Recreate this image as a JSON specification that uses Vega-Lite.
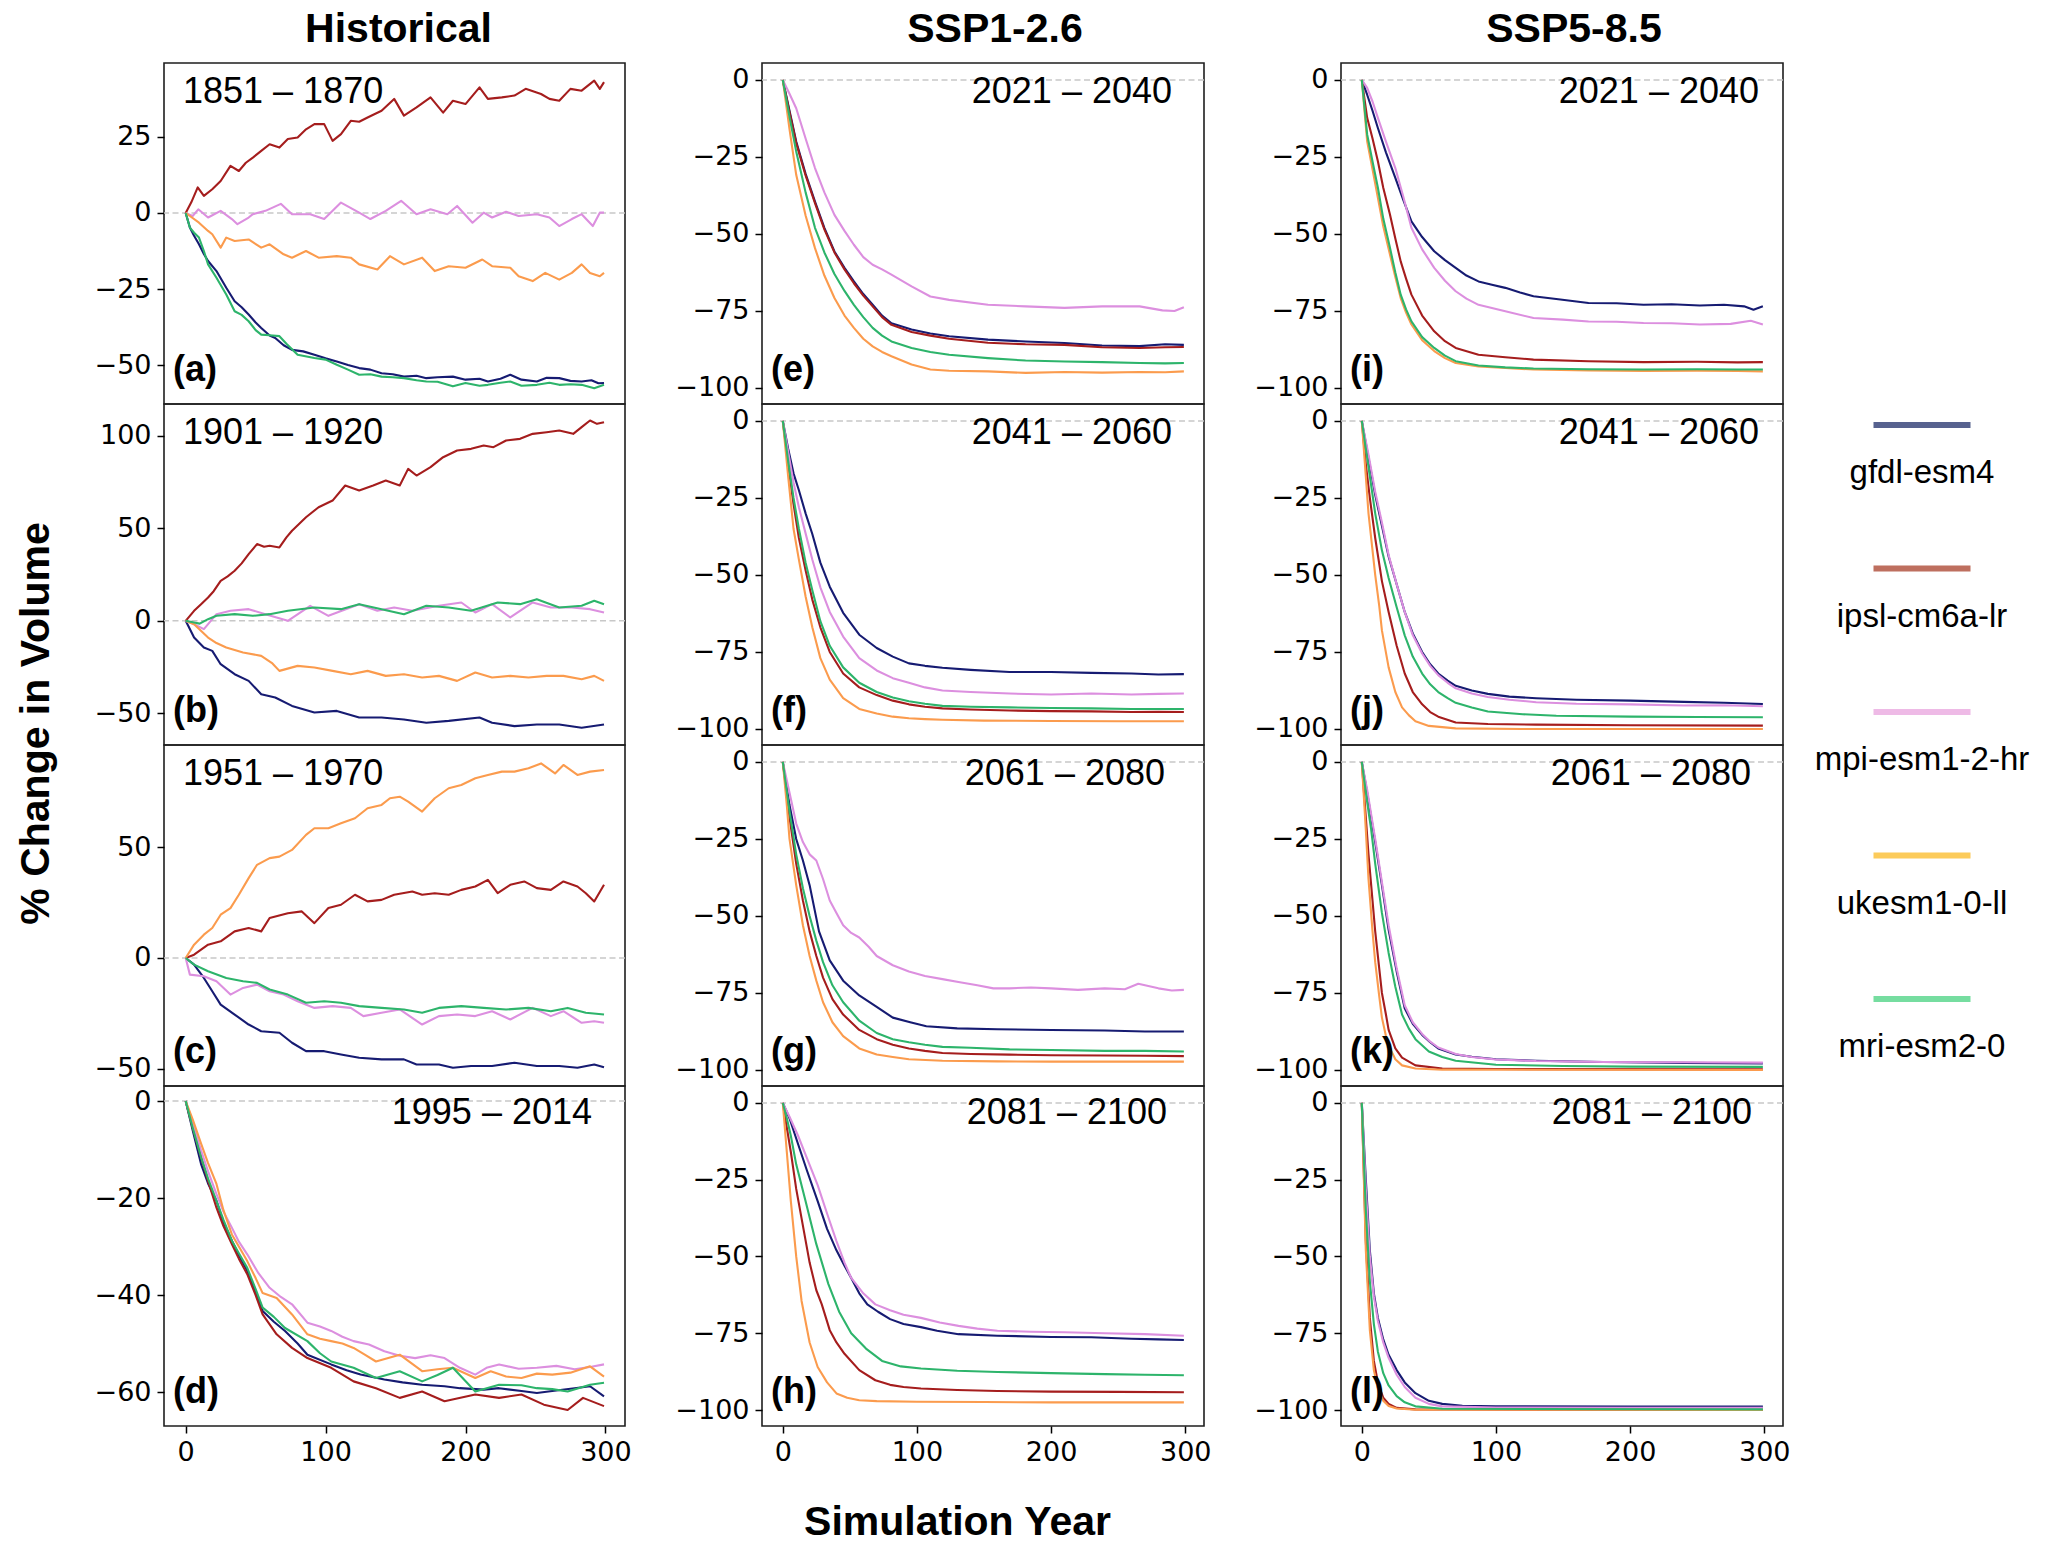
{
"$schema":"https://vega.github.io/schema/vega-lite/v6.json",
"background":"white",
"padding":{"left":14,"top":8,"right":10,"bottom":2},
"config":{
 "font":"Liberation Sans",
 "view":{"stroke":"#1e1e1e","strokeWidth":1.6},
 "axis":{"grid":false,"domain":false,"tickColor":"black","tickSize":7,"tickWidth":1.5,"labelFont":"DejaVu Sans","labelFontSize":27,"labelColor":"black","labelPadding":6,"labelFlush":false,"labelOverlap":false,"titleFont":"Liberation Sans","titleFontSize":41,"titleFontWeight":"bold","titleColor":"black"},
 "title":{"font":"Liberation Sans","fontSize":41,"fontWeight":"bold","color":"black","anchor":"middle","frame":"group","baseline":"alphabetic","offset":12},
 "line":{"strokeWidth":2.1,"strokeJoin":"round"},
 "text":{"font":"Liberation Sans","color":"black"}
},
"resolve":{"scale":{"x":"independent","y":"independent","color":"independent"}},
"columns":4,
"spacing":{"row":0,"column":137},
"bounds":"flush",
"datasets":{
"a":[
{"m":"gfdl-esm4","x":0,"y":0},{"m":"gfdl-esm4","x":3,"y":-4.8},{"m":"gfdl-esm4","x":6,"y":-7.5},{"m":"gfdl-esm4","x":9.5,"y":-10.3},{"m":"gfdl-esm4","x":13,"y":-13.5},{"m":"gfdl-esm4","x":16,"y":-15.8},{"m":"gfdl-esm4","x":22,"y":-19.1},{"m":"gfdl-esm4","x":29,"y":-24.6},{"m":"gfdl-esm4","x":35,"y":-29},{"m":"gfdl-esm4","x":40,"y":-31},{"m":"gfdl-esm4","x":45,"y":-33.4},{"m":"gfdl-esm4","x":50,"y":-36},{"m":"gfdl-esm4","x":54,"y":-37.8},{"m":"gfdl-esm4","x":60,"y":-40.3},{"m":"gfdl-esm4","x":64,"y":-41.1},{"m":"gfdl-esm4","x":70,"y":-43.5},{"m":"gfdl-esm4","x":76,"y":-45},{"m":"gfdl-esm4","x":84,"y":-45.5},{"m":"gfdl-esm4","x":92,"y":-46.6},{"m":"gfdl-esm4","x":100,"y":-47.8},{"m":"gfdl-esm4","x":108,"y":-48.8},{"m":"gfdl-esm4","x":116,"y":-50},{"m":"gfdl-esm4","x":124,"y":-51},{"m":"gfdl-esm4","x":132,"y":-51.5},{"m":"gfdl-esm4","x":140,"y":-52.7},{"m":"gfdl-esm4","x":148,"y":-53},{"m":"gfdl-esm4","x":156,"y":-53.8},{"m":"gfdl-esm4","x":165,"y":-53.5},{"m":"gfdl-esm4","x":172,"y":-54.3},{"m":"gfdl-esm4","x":180,"y":-54},{"m":"gfdl-esm4","x":191,"y":-53.8},{"m":"gfdl-esm4","x":200,"y":-54.8},{"m":"gfdl-esm4","x":210,"y":-54.5},{"m":"gfdl-esm4","x":216,"y":-55.4},{"m":"gfdl-esm4","x":225,"y":-54.5},{"m":"gfdl-esm4","x":232,"y":-53.2},{"m":"gfdl-esm4","x":240,"y":-54.8},{"m":"gfdl-esm4","x":251,"y":-55.4},{"m":"gfdl-esm4","x":258,"y":-54.2},{"m":"gfdl-esm4","x":267,"y":-54.3},{"m":"gfdl-esm4","x":275,"y":-55.2},{"m":"gfdl-esm4","x":283,"y":-55.4},{"m":"gfdl-esm4","x":290,"y":-55},{"m":"gfdl-esm4","x":295,"y":-56},{"m":"gfdl-esm4","x":299,"y":-55.9},
{"m":"ipsl-cm6a-lr","x":0,"y":0},{"m":"ipsl-cm6a-lr","x":4,"y":3.5},{"m":"ipsl-cm6a-lr","x":8.6,"y":8.4},{"m":"ipsl-cm6a-lr","x":13,"y":5.6},{"m":"ipsl-cm6a-lr","x":19,"y":7.8},{"m":"ipsl-cm6a-lr","x":25,"y":10.5},{"m":"ipsl-cm6a-lr","x":32,"y":15.5},{"m":"ipsl-cm6a-lr","x":38,"y":13.8},{"m":"ipsl-cm6a-lr","x":43,"y":16.5},{"m":"ipsl-cm6a-lr","x":48,"y":18.2},{"m":"ipsl-cm6a-lr","x":54,"y":20.4},{"m":"ipsl-cm6a-lr","x":60,"y":22.6},{"m":"ipsl-cm6a-lr","x":67,"y":21.5},{"m":"ipsl-cm6a-lr","x":73,"y":24.3},{"m":"ipsl-cm6a-lr","x":80,"y":24.8},{"m":"ipsl-cm6a-lr","x":86,"y":27.5},{"m":"ipsl-cm6a-lr","x":92,"y":29.2},{"m":"ipsl-cm6a-lr","x":99,"y":29.2},{"m":"ipsl-cm6a-lr","x":105,"y":23.7},{"m":"ipsl-cm6a-lr","x":111,"y":25.9},{"m":"ipsl-cm6a-lr","x":118,"y":30.3},{"m":"ipsl-cm6a-lr","x":124,"y":30},{"m":"ipsl-cm6a-lr","x":130,"y":31.4},{"m":"ipsl-cm6a-lr","x":140,"y":33.6},{"m":"ipsl-cm6a-lr","x":149,"y":37.5},{"m":"ipsl-cm6a-lr","x":156,"y":32},{"m":"ipsl-cm6a-lr","x":165,"y":34.7},{"m":"ipsl-cm6a-lr","x":175,"y":38},{"m":"ipsl-cm6a-lr","x":184,"y":33},{"m":"ipsl-cm6a-lr","x":191,"y":36.9},{"m":"ipsl-cm6a-lr","x":200,"y":35.8},{"m":"ipsl-cm6a-lr","x":210,"y":41.3},{"m":"ipsl-cm6a-lr","x":216,"y":37.5},{"m":"ipsl-cm6a-lr","x":226,"y":38},{"m":"ipsl-cm6a-lr","x":235,"y":38.6},{"m":"ipsl-cm6a-lr","x":243,"y":40.8},{"m":"ipsl-cm6a-lr","x":254,"y":39.1},{"m":"ipsl-cm6a-lr","x":260,"y":37.5},{"m":"ipsl-cm6a-lr","x":267,"y":36.9},{"m":"ipsl-cm6a-lr","x":275,"y":40.8},{"m":"ipsl-cm6a-lr","x":283,"y":40.2},{"m":"ipsl-cm6a-lr","x":292,"y":43.5},{"m":"ipsl-cm6a-lr","x":296,"y":40.8},{"m":"ipsl-cm6a-lr","x":299,"y":43},
{"m":"mpi-esm1-2-hr","x":0,"y":0},{"m":"mpi-esm1-2-hr","x":5,"y":-1},{"m":"mpi-esm1-2-hr","x":9,"y":1.2},{"m":"mpi-esm1-2-hr","x":16,"y":-1.5},{"m":"mpi-esm1-2-hr","x":25,"y":0.7},{"m":"mpi-esm1-2-hr","x":33,"y":-2},{"m":"mpi-esm1-2-hr","x":37,"y":-3.7},{"m":"mpi-esm1-2-hr","x":45,"y":-1.5},{"m":"mpi-esm1-2-hr","x":48,"y":-0.4},{"m":"mpi-esm1-2-hr","x":57,"y":0.7},{"m":"mpi-esm1-2-hr","x":68,"y":3},{"m":"mpi-esm1-2-hr","x":76,"y":-0.4},{"m":"mpi-esm1-2-hr","x":89,"y":-0.4},{"m":"mpi-esm1-2-hr","x":99,"y":-2},{"m":"mpi-esm1-2-hr","x":111,"y":3.4},{"m":"mpi-esm1-2-hr","x":124,"y":0.1},{"m":"mpi-esm1-2-hr","x":132,"y":-2},{"m":"mpi-esm1-2-hr","x":143,"y":0.7},{"m":"mpi-esm1-2-hr","x":154,"y":4},{"m":"mpi-esm1-2-hr","x":165,"y":-0.4},{"m":"mpi-esm1-2-hr","x":175,"y":1.2},{"m":"mpi-esm1-2-hr","x":187,"y":-0.4},{"m":"mpi-esm1-2-hr","x":194,"y":2.3},{"m":"mpi-esm1-2-hr","x":205,"y":-3.2},{"m":"mpi-esm1-2-hr","x":213,"y":0.1},{"m":"mpi-esm1-2-hr","x":219,"y":-1.5},{"m":"mpi-esm1-2-hr","x":229,"y":0.4},{"m":"mpi-esm1-2-hr","x":238,"y":-1},{"m":"mpi-esm1-2-hr","x":251,"y":-0.4},{"m":"mpi-esm1-2-hr","x":260,"y":-1.5},{"m":"mpi-esm1-2-hr","x":267,"y":-4.3},{"m":"mpi-esm1-2-hr","x":276,"y":-2},{"m":"mpi-esm1-2-hr","x":283,"y":-0.4},{"m":"mpi-esm1-2-hr","x":291,"y":-4.3},{"m":"mpi-esm1-2-hr","x":296,"y":0.1},{"m":"mpi-esm1-2-hr","x":299,"y":0.1},
{"m":"ukesm1-0-ll","x":0,"y":0},{"m":"ukesm1-0-ll","x":3,"y":-1},{"m":"ukesm1-0-ll","x":9.5,"y":-3.2},{"m":"ukesm1-0-ll","x":16,"y":-5.9},{"m":"ukesm1-0-ll","x":19,"y":-7},{"m":"ukesm1-0-ll","x":25,"y":-11.4},{"m":"ukesm1-0-ll","x":29,"y":-8.1},{"m":"ukesm1-0-ll","x":35,"y":-9.2},{"m":"ukesm1-0-ll","x":45,"y":-8.7},{"m":"ukesm1-0-ll","x":54,"y":-11.4},{"m":"ukesm1-0-ll","x":60,"y":-10.3},{"m":"ukesm1-0-ll","x":70,"y":-13.6},{"m":"ukesm1-0-ll","x":76,"y":-14.7},{"m":"ukesm1-0-ll","x":86,"y":-12.5},{"m":"ukesm1-0-ll","x":95,"y":-14.7},{"m":"ukesm1-0-ll","x":108,"y":-14.2},{"m":"ukesm1-0-ll","x":118,"y":-14.7},{"m":"ukesm1-0-ll","x":124,"y":-16.9},{"m":"ukesm1-0-ll","x":137,"y":-18.6},{"m":"ukesm1-0-ll","x":146,"y":-14.2},{"m":"ukesm1-0-ll","x":156,"y":-16.9},{"m":"ukesm1-0-ll","x":169,"y":-14.7},{"m":"ukesm1-0-ll","x":178,"y":-19.1},{"m":"ukesm1-0-ll","x":188,"y":-17.5},{"m":"ukesm1-0-ll","x":200,"y":-18},{"m":"ukesm1-0-ll","x":212,"y":-15.3},{"m":"ukesm1-0-ll","x":219,"y":-17.5},{"m":"ukesm1-0-ll","x":232,"y":-18},{"m":"ukesm1-0-ll","x":238,"y":-20.8},{"m":"ukesm1-0-ll","x":248,"y":-22.4},{"m":"ukesm1-0-ll","x":257,"y":-19.7},{"m":"ukesm1-0-ll","x":267,"y":-21.9},{"m":"ukesm1-0-ll","x":276,"y":-19.7},{"m":"ukesm1-0-ll","x":283,"y":-16.9},{"m":"ukesm1-0-ll","x":289,"y":-19.7},{"m":"ukesm1-0-ll","x":296,"y":-20.8},{"m":"ukesm1-0-ll","x":299,"y":-19.7},
{"m":"mri-esm2-0","x":0,"y":0},{"m":"mri-esm2-0","x":3,"y":-4.8},{"m":"mri-esm2-0","x":6,"y":-6.5},{"m":"mri-esm2-0","x":9.5,"y":-8.1},{"m":"mri-esm2-0","x":13,"y":-12.5},{"m":"mri-esm2-0","x":16,"y":-16.9},{"m":"mri-esm2-0","x":22,"y":-21.3},{"m":"mri-esm2-0","x":29,"y":-26.8},{"m":"mri-esm2-0","x":35,"y":-32.3},{"m":"mri-esm2-0","x":40,"y":-33.5},{"m":"mri-esm2-0","x":45,"y":-35.6},{"m":"mri-esm2-0","x":50,"y":-38.5},{"m":"mri-esm2-0","x":54,"y":-40},{"m":"mri-esm2-0","x":60,"y":-40.2},{"m":"mri-esm2-0","x":67,"y":-40.5},{"m":"mri-esm2-0","x":72,"y":-43},{"m":"mri-esm2-0","x":80,"y":-46.6},{"m":"mri-esm2-0","x":92,"y":-47.7},{"m":"mri-esm2-0","x":100,"y":-48.2},{"m":"mri-esm2-0","x":108,"y":-49.9},{"m":"mri-esm2-0","x":116,"y":-51.5},{"m":"mri-esm2-0","x":124,"y":-53.2},{"m":"mri-esm2-0","x":132,"y":-53},{"m":"mri-esm2-0","x":140,"y":-53.8},{"m":"mri-esm2-0","x":148,"y":-54},{"m":"mri-esm2-0","x":156,"y":-54.3},{"m":"mri-esm2-0","x":165,"y":-55},{"m":"mri-esm2-0","x":172,"y":-55.4},{"m":"mri-esm2-0","x":180,"y":-55.5},{"m":"mri-esm2-0","x":191,"y":-57},{"m":"mri-esm2-0","x":200,"y":-55.9},{"m":"mri-esm2-0","x":210,"y":-56.8},{"m":"mri-esm2-0","x":216,"y":-56.5},{"m":"mri-esm2-0","x":225,"y":-55.8},{"m":"mri-esm2-0","x":232,"y":-55.4},{"m":"mri-esm2-0","x":240,"y":-56.8},{"m":"mri-esm2-0","x":251,"y":-56.5},{"m":"mri-esm2-0","x":260,"y":-55.8},{"m":"mri-esm2-0","x":267,"y":-56.5},{"m":"mri-esm2-0","x":275,"y":-56.3},{"m":"mri-esm2-0","x":283,"y":-56.5},{"m":"mri-esm2-0","x":292,"y":-57.6},{"m":"mri-esm2-0","x":299,"y":-56.5}
],
"b":[
{"m":"gfdl-esm4","x":0,"y":0},{"m":"gfdl-esm4","x":6,"y":-9},{"m":"gfdl-esm4","x":13,"y":-14.4},{"m":"gfdl-esm4","x":19,"y":-16.2},{"m":"gfdl-esm4","x":25,"y":-23.4},{"m":"gfdl-esm4","x":35,"y":-28.8},{"m":"gfdl-esm4","x":45,"y":-32.4},{"m":"gfdl-esm4","x":54,"y":-39.6},{"m":"gfdl-esm4","x":64,"y":-41.4},{"m":"gfdl-esm4","x":76,"y":-45.9},{"m":"gfdl-esm4","x":92,"y":-49.5},{"m":"gfdl-esm4","x":108,"y":-48.6},{"m":"gfdl-esm4","x":124,"y":-52.2},{"m":"gfdl-esm4","x":140,"y":-52.2},{"m":"gfdl-esm4","x":156,"y":-53.2},{"m":"gfdl-esm4","x":172,"y":-55},{"m":"gfdl-esm4","x":188,"y":-54},{"m":"gfdl-esm4","x":210,"y":-52.2},{"m":"gfdl-esm4","x":219,"y":-55},{"m":"gfdl-esm4","x":235,"y":-56.8},{"m":"gfdl-esm4","x":251,"y":-55.9},{"m":"gfdl-esm4","x":267,"y":-55.9},{"m":"gfdl-esm4","x":283,"y":-57.7},{"m":"gfdl-esm4","x":299,"y":-55.9},
{"m":"ipsl-cm6a-lr","x":0,"y":0},{"m":"ipsl-cm6a-lr","x":6,"y":5.4},{"m":"ipsl-cm6a-lr","x":11,"y":9},{"m":"ipsl-cm6a-lr","x":16,"y":12.6},{"m":"ipsl-cm6a-lr","x":20,"y":16},{"m":"ipsl-cm6a-lr","x":25,"y":21.6},{"m":"ipsl-cm6a-lr","x":30,"y":24},{"m":"ipsl-cm6a-lr","x":35,"y":27},{"m":"ipsl-cm6a-lr","x":40,"y":31},{"m":"ipsl-cm6a-lr","x":45,"y":36},{"m":"ipsl-cm6a-lr","x":51,"y":41.4},{"m":"ipsl-cm6a-lr","x":56,"y":40},{"m":"ipsl-cm6a-lr","x":60,"y":40.5},{"m":"ipsl-cm6a-lr","x":67,"y":39.6},{"m":"ipsl-cm6a-lr","x":72,"y":45},{"m":"ipsl-cm6a-lr","x":76,"y":48.6},{"m":"ipsl-cm6a-lr","x":86,"y":55.9},{"m":"ipsl-cm6a-lr","x":95,"y":61.3},{"m":"ipsl-cm6a-lr","x":105,"y":64.9},{"m":"ipsl-cm6a-lr","x":114,"y":73},{"m":"ipsl-cm6a-lr","x":124,"y":70.3},{"m":"ipsl-cm6a-lr","x":134,"y":73},{"m":"ipsl-cm6a-lr","x":143,"y":75.7},{"m":"ipsl-cm6a-lr","x":153,"y":73},{"m":"ipsl-cm6a-lr","x":159,"y":82},{"m":"ipsl-cm6a-lr","x":165,"y":78.4},{"m":"ipsl-cm6a-lr","x":175,"y":82.9},{"m":"ipsl-cm6a-lr","x":184,"y":88.3},{"m":"ipsl-cm6a-lr","x":194,"y":91.9},{"m":"ipsl-cm6a-lr","x":204,"y":92.8},{"m":"ipsl-cm6a-lr","x":213,"y":94.6},{"m":"ipsl-cm6a-lr","x":220,"y":93.7},{"m":"ipsl-cm6a-lr","x":229,"y":97.3},{"m":"ipsl-cm6a-lr","x":239,"y":98.2},{"m":"ipsl-cm6a-lr","x":248,"y":100.9},{"m":"ipsl-cm6a-lr","x":258,"y":101.8},{"m":"ipsl-cm6a-lr","x":267,"y":102.7},{"m":"ipsl-cm6a-lr","x":277,"y":100.9},{"m":"ipsl-cm6a-lr","x":283,"y":104.5},{"m":"ipsl-cm6a-lr","x":289,"y":108.1},{"m":"ipsl-cm6a-lr","x":294,"y":106.3},{"m":"ipsl-cm6a-lr","x":299,"y":107.2},
{"m":"mpi-esm1-2-hr","x":0,"y":0},{"m":"mpi-esm1-2-hr","x":6,"y":-1.8},{"m":"mpi-esm1-2-hr","x":13,"y":-4.5},{"m":"mpi-esm1-2-hr","x":22,"y":3.6},{"m":"mpi-esm1-2-hr","x":32,"y":5.4},{"m":"mpi-esm1-2-hr","x":45,"y":6.3},{"m":"mpi-esm1-2-hr","x":57,"y":3.6},{"m":"mpi-esm1-2-hr","x":73,"y":0},{"m":"mpi-esm1-2-hr","x":89,"y":8.1},{"m":"mpi-esm1-2-hr","x":102,"y":2.7},{"m":"mpi-esm1-2-hr","x":124,"y":9},{"m":"mpi-esm1-2-hr","x":137,"y":5.4},{"m":"mpi-esm1-2-hr","x":149,"y":7.2},{"m":"mpi-esm1-2-hr","x":162,"y":5.4},{"m":"mpi-esm1-2-hr","x":181,"y":8.1},{"m":"mpi-esm1-2-hr","x":197,"y":9.9},{"m":"mpi-esm1-2-hr","x":207,"y":4.5},{"m":"mpi-esm1-2-hr","x":219,"y":9},{"m":"mpi-esm1-2-hr","x":232,"y":1.8},{"m":"mpi-esm1-2-hr","x":248,"y":9.9},{"m":"mpi-esm1-2-hr","x":261,"y":7.2},{"m":"mpi-esm1-2-hr","x":276,"y":7.2},{"m":"mpi-esm1-2-hr","x":289,"y":6.3},{"m":"mpi-esm1-2-hr","x":299,"y":4.5},
{"m":"ukesm1-0-ll","x":0,"y":0},{"m":"ukesm1-0-ll","x":6,"y":-1.8},{"m":"ukesm1-0-ll","x":16,"y":-9},{"m":"ukesm1-0-ll","x":22,"y":-12},{"m":"ukesm1-0-ll","x":29,"y":-14.4},{"m":"ukesm1-0-ll","x":41,"y":-17.1},{"m":"ukesm1-0-ll","x":54,"y":-18.9},{"m":"ukesm1-0-ll","x":62,"y":-23},{"m":"ukesm1-0-ll","x":67,"y":-27},{"m":"ukesm1-0-ll","x":80,"y":-24.3},{"m":"ukesm1-0-ll","x":92,"y":-25.2},{"m":"ukesm1-0-ll","x":105,"y":-27},{"m":"ukesm1-0-ll","x":118,"y":-28.8},{"m":"ukesm1-0-ll","x":130,"y":-27},{"m":"ukesm1-0-ll","x":143,"y":-29.7},{"m":"ukesm1-0-ll","x":156,"y":-28.8},{"m":"ukesm1-0-ll","x":169,"y":-30.6},{"m":"ukesm1-0-ll","x":181,"y":-29.7},{"m":"ukesm1-0-ll","x":194,"y":-32.4},{"m":"ukesm1-0-ll","x":207,"y":-27.9},{"m":"ukesm1-0-ll","x":219,"y":-30.6},{"m":"ukesm1-0-ll","x":232,"y":-29.7},{"m":"ukesm1-0-ll","x":245,"y":-30.6},{"m":"ukesm1-0-ll","x":258,"y":-29.7},{"m":"ukesm1-0-ll","x":270,"y":-29.7},{"m":"ukesm1-0-ll","x":283,"y":-31.5},{"m":"ukesm1-0-ll","x":292,"y":-29.7},{"m":"ukesm1-0-ll","x":299,"y":-32.4},
{"m":"mri-esm2-0","x":0,"y":0},{"m":"mri-esm2-0","x":6,"y":-0.9},{"m":"mri-esm2-0","x":10,"y":-1.5},{"m":"mri-esm2-0","x":16,"y":0.9},{"m":"mri-esm2-0","x":22,"y":2.7},{"m":"mri-esm2-0","x":35,"y":3.6},{"m":"mri-esm2-0","x":48,"y":2.7},{"m":"mri-esm2-0","x":60,"y":3.6},{"m":"mri-esm2-0","x":73,"y":5.4},{"m":"mri-esm2-0","x":92,"y":7.2},{"m":"mri-esm2-0","x":111,"y":6.3},{"m":"mri-esm2-0","x":124,"y":9},{"m":"mri-esm2-0","x":140,"y":6.3},{"m":"mri-esm2-0","x":156,"y":3.6},{"m":"mri-esm2-0","x":172,"y":8.1},{"m":"mri-esm2-0","x":188,"y":7.2},{"m":"mri-esm2-0","x":204,"y":5.4},{"m":"mri-esm2-0","x":223,"y":9.9},{"m":"mri-esm2-0","x":239,"y":9},{"m":"mri-esm2-0","x":251,"y":11.7},{"m":"mri-esm2-0","x":267,"y":7.2},{"m":"mri-esm2-0","x":283,"y":8.1},{"m":"mri-esm2-0","x":292,"y":10.8},{"m":"mri-esm2-0","x":299,"y":9}
],
"c":[
{"m":"gfdl-esm4","x":0,"y":0},{"m":"gfdl-esm4","x":6,"y":-3},{"m":"gfdl-esm4","x":13,"y":-9},{"m":"gfdl-esm4","x":19,"y":-15},{"m":"gfdl-esm4","x":25,"y":-21},{"m":"gfdl-esm4","x":35,"y":-25.5},{"m":"gfdl-esm4","x":45,"y":-30},{"m":"gfdl-esm4","x":54,"y":-33},{"m":"gfdl-esm4","x":67,"y":-33.7},{"m":"gfdl-esm4","x":76,"y":-38.2},{"m":"gfdl-esm4","x":86,"y":-42},{"m":"gfdl-esm4","x":99,"y":-42},{"m":"gfdl-esm4","x":111,"y":-43.5},{"m":"gfdl-esm4","x":124,"y":-45},{"m":"gfdl-esm4","x":140,"y":-45.7},{"m":"gfdl-esm4","x":156,"y":-45.7},{"m":"gfdl-esm4","x":165,"y":-48},{"m":"gfdl-esm4","x":181,"y":-48},{"m":"gfdl-esm4","x":191,"y":-49.5},{"m":"gfdl-esm4","x":204,"y":-48.7},{"m":"gfdl-esm4","x":219,"y":-48.7},{"m":"gfdl-esm4","x":235,"y":-47.2},{"m":"gfdl-esm4","x":251,"y":-48.7},{"m":"gfdl-esm4","x":267,"y":-48.7},{"m":"gfdl-esm4","x":280,"y":-49.5},{"m":"gfdl-esm4","x":292,"y":-48},{"m":"gfdl-esm4","x":299,"y":-49.2},
{"m":"ipsl-cm6a-lr","x":0,"y":0},{"m":"ipsl-cm6a-lr","x":6,"y":1.5},{"m":"ipsl-cm6a-lr","x":16,"y":6},{"m":"ipsl-cm6a-lr","x":25,"y":7.5},{"m":"ipsl-cm6a-lr","x":35,"y":12},{"m":"ipsl-cm6a-lr","x":45,"y":13.5},{"m":"ipsl-cm6a-lr","x":54,"y":12},{"m":"ipsl-cm6a-lr","x":60,"y":18},{"m":"ipsl-cm6a-lr","x":73,"y":20.2},{"m":"ipsl-cm6a-lr","x":83,"y":21},{"m":"ipsl-cm6a-lr","x":92,"y":15.7},{"m":"ipsl-cm6a-lr","x":102,"y":22.5},{"m":"ipsl-cm6a-lr","x":111,"y":24},{"m":"ipsl-cm6a-lr","x":121,"y":28.5},{"m":"ipsl-cm6a-lr","x":130,"y":25.5},{"m":"ipsl-cm6a-lr","x":140,"y":26.2},{"m":"ipsl-cm6a-lr","x":149,"y":28.5},{"m":"ipsl-cm6a-lr","x":162,"y":30},{"m":"ipsl-cm6a-lr","x":169,"y":28.5},{"m":"ipsl-cm6a-lr","x":178,"y":29.2},{"m":"ipsl-cm6a-lr","x":188,"y":28.5},{"m":"ipsl-cm6a-lr","x":197,"y":30.7},{"m":"ipsl-cm6a-lr","x":207,"y":32.2},{"m":"ipsl-cm6a-lr","x":216,"y":35.2},{"m":"ipsl-cm6a-lr","x":223,"y":29.2},{"m":"ipsl-cm6a-lr","x":232,"y":33},{"m":"ipsl-cm6a-lr","x":242,"y":34.5},{"m":"ipsl-cm6a-lr","x":251,"y":31.5},{"m":"ipsl-cm6a-lr","x":261,"y":30.7},{"m":"ipsl-cm6a-lr","x":270,"y":34.5},{"m":"ipsl-cm6a-lr","x":280,"y":32.2},{"m":"ipsl-cm6a-lr","x":286,"y":29.2},{"m":"ipsl-cm6a-lr","x":292,"y":25.5},{"m":"ipsl-cm6a-lr","x":299,"y":33},
{"m":"mpi-esm1-2-hr","x":0,"y":0},{"m":"mpi-esm1-2-hr","x":3,"y":-7.5},{"m":"mpi-esm1-2-hr","x":13,"y":-8.2},{"m":"mpi-esm1-2-hr","x":22,"y":-10.5},{"m":"mpi-esm1-2-hr","x":32,"y":-16.5},{"m":"mpi-esm1-2-hr","x":41,"y":-13.5},{"m":"mpi-esm1-2-hr","x":51,"y":-12},{"m":"mpi-esm1-2-hr","x":60,"y":-15},{"m":"mpi-esm1-2-hr","x":70,"y":-16.5},{"m":"mpi-esm1-2-hr","x":80,"y":-19.5},{"m":"mpi-esm1-2-hr","x":92,"y":-22.5},{"m":"mpi-esm1-2-hr","x":105,"y":-21.7},{"m":"mpi-esm1-2-hr","x":118,"y":-22.5},{"m":"mpi-esm1-2-hr","x":127,"y":-26.2},{"m":"mpi-esm1-2-hr","x":140,"y":-24.7},{"m":"mpi-esm1-2-hr","x":153,"y":-23.2},{"m":"mpi-esm1-2-hr","x":169,"y":-30},{"m":"mpi-esm1-2-hr","x":181,"y":-26.2},{"m":"mpi-esm1-2-hr","x":194,"y":-25.5},{"m":"mpi-esm1-2-hr","x":207,"y":-26.2},{"m":"mpi-esm1-2-hr","x":219,"y":-24},{"m":"mpi-esm1-2-hr","x":232,"y":-27.7},{"m":"mpi-esm1-2-hr","x":248,"y":-22.5},{"m":"mpi-esm1-2-hr","x":261,"y":-26.2},{"m":"mpi-esm1-2-hr","x":270,"y":-24},{"m":"mpi-esm1-2-hr","x":283,"y":-29.2},{"m":"mpi-esm1-2-hr","x":292,"y":-28.5},{"m":"mpi-esm1-2-hr","x":299,"y":-29.2},
{"m":"ukesm1-0-ll","x":0,"y":0},{"m":"ukesm1-0-ll","x":6,"y":6},{"m":"ukesm1-0-ll","x":13,"y":10.5},{"m":"ukesm1-0-ll","x":19,"y":13.5},{"m":"ukesm1-0-ll","x":25,"y":19.5},{"m":"ukesm1-0-ll","x":32,"y":22.5},{"m":"ukesm1-0-ll","x":38,"y":28.5},{"m":"ukesm1-0-ll","x":45,"y":36},{"m":"ukesm1-0-ll","x":51,"y":42},{"m":"ukesm1-0-ll","x":60,"y":45},{"m":"ukesm1-0-ll","x":67,"y":45.7},{"m":"ukesm1-0-ll","x":76,"y":48.7},{"m":"ukesm1-0-ll","x":86,"y":55.5},{"m":"ukesm1-0-ll","x":92,"y":58.5},{"m":"ukesm1-0-ll","x":102,"y":58.5},{"m":"ukesm1-0-ll","x":111,"y":60.7},{"m":"ukesm1-0-ll","x":121,"y":63},{"m":"ukesm1-0-ll","x":130,"y":67.5},{"m":"ukesm1-0-ll","x":140,"y":69},{"m":"ukesm1-0-ll","x":146,"y":72},{"m":"ukesm1-0-ll","x":153,"y":72.7},{"m":"ukesm1-0-ll","x":159,"y":70.5},{"m":"ukesm1-0-ll","x":169,"y":66},{"m":"ukesm1-0-ll","x":178,"y":72},{"m":"ukesm1-0-ll","x":188,"y":76.5},{"m":"ukesm1-0-ll","x":197,"y":78},{"m":"ukesm1-0-ll","x":207,"y":81},{"m":"ukesm1-0-ll","x":216,"y":82.5},{"m":"ukesm1-0-ll","x":226,"y":84},{"m":"ukesm1-0-ll","x":235,"y":84},{"m":"ukesm1-0-ll","x":245,"y":85.5},{"m":"ukesm1-0-ll","x":254,"y":87.7},{"m":"ukesm1-0-ll","x":264,"y":83.2},{"m":"ukesm1-0-ll","x":270,"y":87},{"m":"ukesm1-0-ll","x":280,"y":82.5},{"m":"ukesm1-0-ll","x":289,"y":84},{"m":"ukesm1-0-ll","x":299,"y":84.7},
{"m":"mri-esm2-0","x":0,"y":0},{"m":"mri-esm2-0","x":6,"y":-3},{"m":"mri-esm2-0","x":16,"y":-6},{"m":"mri-esm2-0","x":29,"y":-9},{"m":"mri-esm2-0","x":41,"y":-10.5},{"m":"mri-esm2-0","x":51,"y":-11.2},{"m":"mri-esm2-0","x":60,"y":-14.2},{"m":"mri-esm2-0","x":73,"y":-16.5},{"m":"mri-esm2-0","x":86,"y":-20.2},{"m":"mri-esm2-0","x":99,"y":-19.5},{"m":"mri-esm2-0","x":111,"y":-20.2},{"m":"mri-esm2-0","x":124,"y":-21.7},{"m":"mri-esm2-0","x":140,"y":-22.5},{"m":"mri-esm2-0","x":156,"y":-23.2},{"m":"mri-esm2-0","x":169,"y":-24.7},{"m":"mri-esm2-0","x":181,"y":-22.5},{"m":"mri-esm2-0","x":197,"y":-21.7},{"m":"mri-esm2-0","x":213,"y":-22.5},{"m":"mri-esm2-0","x":229,"y":-23.2},{"m":"mri-esm2-0","x":245,"y":-22.5},{"m":"mri-esm2-0","x":261,"y":-24},{"m":"mri-esm2-0","x":273,"y":-22.5},{"m":"mri-esm2-0","x":286,"y":-24.7},{"m":"mri-esm2-0","x":299,"y":-25.5}
],
"d":[
{"m":"gfdl-esm4","x":0,"y":0},{"m":"gfdl-esm4","x":5,"y":-6},{"m":"gfdl-esm4","x":11,"y":-13},{"m":"gfdl-esm4","x":16,"y":-17},{"m":"gfdl-esm4","x":22,"y":-20.6},{"m":"gfdl-esm4","x":27,"y":-25},{"m":"gfdl-esm4","x":33,"y":-28.8},{"m":"gfdl-esm4","x":38,"y":-31.8},{"m":"gfdl-esm4","x":44,"y":-35},{"m":"gfdl-esm4","x":50,"y":-39.5},{"m":"gfdl-esm4","x":55,"y":-43.3},{"m":"gfdl-esm4","x":63,"y":-45.5},{"m":"gfdl-esm4","x":71,"y":-47.4},{"m":"gfdl-esm4","x":80,"y":-50},{"m":"gfdl-esm4","x":87,"y":-52.3},{"m":"gfdl-esm4","x":104,"y":-54.3},{"m":"gfdl-esm4","x":115,"y":-55.5},{"m":"gfdl-esm4","x":125,"y":-56.4},{"m":"gfdl-esm4","x":142,"y":-57.4},{"m":"gfdl-esm4","x":155,"y":-58},{"m":"gfdl-esm4","x":169,"y":-58.5},{"m":"gfdl-esm4","x":185,"y":-58.8},{"m":"gfdl-esm4","x":196,"y":-59.2},{"m":"gfdl-esm4","x":213,"y":-59.5},{"m":"gfdl-esm4","x":224,"y":-59.2},{"m":"gfdl-esm4","x":240,"y":-59.8},{"m":"gfdl-esm4","x":251,"y":-60.2},{"m":"gfdl-esm4","x":262,"y":-59.8},{"m":"gfdl-esm4","x":278,"y":-59.2},{"m":"gfdl-esm4","x":289,"y":-58.8},{"m":"gfdl-esm4","x":299,"y":-60.9},
{"m":"ipsl-cm6a-lr","x":0,"y":0},{"m":"ipsl-cm6a-lr","x":5,"y":-5.5},{"m":"ipsl-cm6a-lr","x":11,"y":-11.6},{"m":"ipsl-cm6a-lr","x":16,"y":-16.5},{"m":"ipsl-cm6a-lr","x":22,"y":-22},{"m":"ipsl-cm6a-lr","x":27,"y":-25.8},{"m":"ipsl-cm6a-lr","x":33,"y":-29.5},{"m":"ipsl-cm6a-lr","x":38,"y":-32.5},{"m":"ipsl-cm6a-lr","x":44,"y":-35.7},{"m":"ipsl-cm6a-lr","x":50,"y":-40},{"m":"ipsl-cm6a-lr","x":55,"y":-44},{"m":"ipsl-cm6a-lr","x":65,"y":-48.1},{"m":"ipsl-cm6a-lr","x":76,"y":-50.9},{"m":"ipsl-cm6a-lr","x":87,"y":-53},{"m":"ipsl-cm6a-lr","x":104,"y":-55},{"m":"ipsl-cm6a-lr","x":120,"y":-57.8},{"m":"ipsl-cm6a-lr","x":136,"y":-59.2},{"m":"ipsl-cm6a-lr","x":153,"y":-61.2},{"m":"ipsl-cm6a-lr","x":169,"y":-59.9},{"m":"ipsl-cm6a-lr","x":185,"y":-61.9},{"m":"ipsl-cm6a-lr","x":207,"y":-60.5},{"m":"ipsl-cm6a-lr","x":224,"y":-61.2},{"m":"ipsl-cm6a-lr","x":240,"y":-60.5},{"m":"ipsl-cm6a-lr","x":256,"y":-62.6},{"m":"ipsl-cm6a-lr","x":273,"y":-63.7},{"m":"ipsl-cm6a-lr","x":284,"y":-61.2},{"m":"ipsl-cm6a-lr","x":299,"y":-62.9},
{"m":"mpi-esm1-2-hr","x":0,"y":0},{"m":"mpi-esm1-2-hr","x":5,"y":-4.5},{"m":"mpi-esm1-2-hr","x":11,"y":-10.2},{"m":"mpi-esm1-2-hr","x":16,"y":-14.5},{"m":"mpi-esm1-2-hr","x":22,"y":-19.2},{"m":"mpi-esm1-2-hr","x":27,"y":-22.8},{"m":"mpi-esm1-2-hr","x":33,"y":-26.1},{"m":"mpi-esm1-2-hr","x":38,"y":-29},{"m":"mpi-esm1-2-hr","x":44,"y":-31.6},{"m":"mpi-esm1-2-hr","x":52,"y":-35.5},{"m":"mpi-esm1-2-hr","x":60,"y":-38.5},{"m":"mpi-esm1-2-hr","x":68,"y":-40.4},{"m":"mpi-esm1-2-hr","x":76,"y":-41.9},{"m":"mpi-esm1-2-hr","x":87,"y":-45.7},{"m":"mpi-esm1-2-hr","x":96,"y":-46.5},{"m":"mpi-esm1-2-hr","x":104,"y":-47.4},{"m":"mpi-esm1-2-hr","x":112,"y":-48.6},{"m":"mpi-esm1-2-hr","x":120,"y":-49.5},{"m":"mpi-esm1-2-hr","x":131,"y":-50.2},{"m":"mpi-esm1-2-hr","x":142,"y":-51.6},{"m":"mpi-esm1-2-hr","x":153,"y":-52.5},{"m":"mpi-esm1-2-hr","x":164,"y":-53},{"m":"mpi-esm1-2-hr","x":175,"y":-52.4},{"m":"mpi-esm1-2-hr","x":185,"y":-53},{"m":"mpi-esm1-2-hr","x":196,"y":-55},{"m":"mpi-esm1-2-hr","x":207,"y":-56.4},{"m":"mpi-esm1-2-hr","x":215,"y":-55},{"m":"mpi-esm1-2-hr","x":224,"y":-54.3},{"m":"mpi-esm1-2-hr","x":238,"y":-55.2},{"m":"mpi-esm1-2-hr","x":251,"y":-55},{"m":"mpi-esm1-2-hr","x":265,"y":-54.6},{"m":"mpi-esm1-2-hr","x":278,"y":-55.3},{"m":"mpi-esm1-2-hr","x":290,"y":-54.8},{"m":"mpi-esm1-2-hr","x":299,"y":-54.3},
{"m":"ukesm1-0-ll","x":0,"y":0},{"m":"ukesm1-0-ll","x":5,"y":-3.8},{"m":"ukesm1-0-ll","x":11,"y":-8.8},{"m":"ukesm1-0-ll","x":16,"y":-12.8},{"m":"ukesm1-0-ll","x":22,"y":-17.1},{"m":"ukesm1-0-ll","x":27,"y":-22.5},{"m":"ukesm1-0-ll","x":33,"y":-27.5},{"m":"ukesm1-0-ll","x":38,"y":-30},{"m":"ukesm1-0-ll","x":44,"y":-33},{"m":"ukesm1-0-ll","x":50,"y":-36.5},{"m":"ukesm1-0-ll","x":55,"y":-39.6},{"m":"ukesm1-0-ll","x":65,"y":-40.6},{"m":"ukesm1-0-ll","x":76,"y":-44},{"m":"ukesm1-0-ll","x":87,"y":-48.1},{"m":"ukesm1-0-ll","x":96,"y":-49},{"m":"ukesm1-0-ll","x":104,"y":-49.5},{"m":"ukesm1-0-ll","x":112,"y":-50},{"m":"ukesm1-0-ll","x":120,"y":-50.9},{"m":"ukesm1-0-ll","x":128,"y":-52.3},{"m":"ukesm1-0-ll","x":136,"y":-53.7},{"m":"ukesm1-0-ll","x":153,"y":-52.3},{"m":"ukesm1-0-ll","x":169,"y":-55.7},{"m":"ukesm1-0-ll","x":180,"y":-55.3},{"m":"ukesm1-0-ll","x":191,"y":-55},{"m":"ukesm1-0-ll","x":207,"y":-57.1},{"m":"ukesm1-0-ll","x":218,"y":-55.7},{"m":"ukesm1-0-ll","x":229,"y":-56.8},{"m":"ukesm1-0-ll","x":240,"y":-57.1},{"m":"ukesm1-0-ll","x":251,"y":-56.2},{"m":"ukesm1-0-ll","x":262,"y":-56.4},{"m":"ukesm1-0-ll","x":275,"y":-56},{"m":"ukesm1-0-ll","x":289,"y":-54.7},{"m":"ukesm1-0-ll","x":299,"y":-56.8},
{"m":"mri-esm2-0","x":0,"y":0},{"m":"mri-esm2-0","x":5,"y":-5.5},{"m":"mri-esm2-0","x":11,"y":-11.6},{"m":"mri-esm2-0","x":16,"y":-16},{"m":"mri-esm2-0","x":22,"y":-20.6},{"m":"mri-esm2-0","x":27,"y":-24.5},{"m":"mri-esm2-0","x":33,"y":-28.8},{"m":"mri-esm2-0","x":38,"y":-31.4},{"m":"mri-esm2-0","x":44,"y":-34.4},{"m":"mri-esm2-0","x":50,"y":-38.8},{"m":"mri-esm2-0","x":55,"y":-42.6},{"m":"mri-esm2-0","x":63,"y":-44.5},{"m":"mri-esm2-0","x":71,"y":-46.8},{"m":"mri-esm2-0","x":87,"y":-49.5},{"m":"mri-esm2-0","x":96,"y":-52},{"m":"mri-esm2-0","x":104,"y":-53.7},{"m":"mri-esm2-0","x":120,"y":-55},{"m":"mri-esm2-0","x":136,"y":-57.1},{"m":"mri-esm2-0","x":153,"y":-55.7},{"m":"mri-esm2-0","x":169,"y":-57.8},{"m":"mri-esm2-0","x":180,"y":-56.5},{"m":"mri-esm2-0","x":191,"y":-55},{"m":"mri-esm2-0","x":207,"y":-59.9},{"m":"mri-esm2-0","x":224,"y":-58.5},{"m":"mri-esm2-0","x":240,"y":-58.6},{"m":"mri-esm2-0","x":251,"y":-59.2},{"m":"mri-esm2-0","x":262,"y":-59.4},{"m":"mri-esm2-0","x":273,"y":-59.9},{"m":"mri-esm2-0","x":289,"y":-58.5},{"m":"mri-esm2-0","x":299,"y":-58.1}
],
"e":[
{"m":"gfdl-esm4","x":0,"y":0},{"m":"gfdl-esm4","x":5,"y":-10},{"m":"gfdl-esm4","x":10,"y":-20},{"m":"gfdl-esm4","x":17,"y":-30.5},{"m":"gfdl-esm4","x":24,"y":-39.5},{"m":"gfdl-esm4","x":31,"y":-48},{"m":"gfdl-esm4","x":38.5,"y":-55.7},{"m":"gfdl-esm4","x":46,"y":-61},{"m":"gfdl-esm4","x":53,"y":-65.4},{"m":"gfdl-esm4","x":60,"y":-69.5},{"m":"gfdl-esm4","x":67,"y":-73},{"m":"gfdl-esm4","x":74,"y":-76.5},{"m":"gfdl-esm4","x":81,"y":-79},{"m":"gfdl-esm4","x":96,"y":-81},{"m":"gfdl-esm4","x":110,"y":-82.3},{"m":"gfdl-esm4","x":124,"y":-83.2},{"m":"gfdl-esm4","x":153,"y":-84.3},{"m":"gfdl-esm4","x":181,"y":-84.9},{"m":"gfdl-esm4","x":210,"y":-85.4},{"m":"gfdl-esm4","x":238,"y":-86.2},{"m":"gfdl-esm4","x":266,"y":-86.4},{"m":"gfdl-esm4","x":285,"y":-85.8},{"m":"gfdl-esm4","x":299,"y":-86},
{"m":"ipsl-cm6a-lr","x":0,"y":0},{"m":"ipsl-cm6a-lr","x":5,"y":-10.5},{"m":"ipsl-cm6a-lr","x":10,"y":-20.5},{"m":"ipsl-cm6a-lr","x":17,"y":-31},{"m":"ipsl-cm6a-lr","x":24,"y":-40},{"m":"ipsl-cm6a-lr","x":31,"y":-48.5},{"m":"ipsl-cm6a-lr","x":38.5,"y":-56},{"m":"ipsl-cm6a-lr","x":46,"y":-61.5},{"m":"ipsl-cm6a-lr","x":53,"y":-66},{"m":"ipsl-cm6a-lr","x":60,"y":-70},{"m":"ipsl-cm6a-lr","x":67,"y":-73.5},{"m":"ipsl-cm6a-lr","x":74,"y":-77},{"m":"ipsl-cm6a-lr","x":81,"y":-79.5},{"m":"ipsl-cm6a-lr","x":96,"y":-81.8},{"m":"ipsl-cm6a-lr","x":110,"y":-83},{"m":"ipsl-cm6a-lr","x":124,"y":-84},{"m":"ipsl-cm6a-lr","x":153,"y":-85.3},{"m":"ipsl-cm6a-lr","x":181,"y":-85.8},{"m":"ipsl-cm6a-lr","x":210,"y":-86},{"m":"ipsl-cm6a-lr","x":238,"y":-86.8},{"m":"ipsl-cm6a-lr","x":266,"y":-87},{"m":"ipsl-cm6a-lr","x":285,"y":-86.8},{"m":"ipsl-cm6a-lr","x":299,"y":-86.7},
{"m":"mpi-esm1-2-hr","x":0,"y":0},{"m":"mpi-esm1-2-hr","x":5,"y":-4.5},{"m":"mpi-esm1-2-hr","x":10,"y":-9.2},{"m":"mpi-esm1-2-hr","x":17,"y":-19},{"m":"mpi-esm1-2-hr","x":24,"y":-28.6},{"m":"mpi-esm1-2-hr","x":31,"y":-36.5},{"m":"mpi-esm1-2-hr","x":38.5,"y":-43.8},{"m":"mpi-esm1-2-hr","x":46,"y":-49},{"m":"mpi-esm1-2-hr","x":53,"y":-53.5},{"m":"mpi-esm1-2-hr","x":60,"y":-57.5},{"m":"mpi-esm1-2-hr","x":67,"y":-60},{"m":"mpi-esm1-2-hr","x":74,"y":-61.5},{"m":"mpi-esm1-2-hr","x":81,"y":-63.2},{"m":"mpi-esm1-2-hr","x":96,"y":-67},{"m":"mpi-esm1-2-hr","x":110,"y":-70.3},{"m":"mpi-esm1-2-hr","x":124,"y":-71.4},{"m":"mpi-esm1-2-hr","x":153,"y":-73},{"m":"mpi-esm1-2-hr","x":181,"y":-73.5},{"m":"mpi-esm1-2-hr","x":210,"y":-74},{"m":"mpi-esm1-2-hr","x":238,"y":-73.5},{"m":"mpi-esm1-2-hr","x":266,"y":-73.5},{"m":"mpi-esm1-2-hr","x":283,"y":-74.8},{"m":"mpi-esm1-2-hr","x":292,"y":-75},{"m":"mpi-esm1-2-hr","x":299,"y":-73.8},
{"m":"ukesm1-0-ll","x":0,"y":0},{"m":"ukesm1-0-ll","x":5,"y":-16},{"m":"ukesm1-0-ll","x":10,"y":-30.8},{"m":"ukesm1-0-ll","x":17,"y":-44},{"m":"ukesm1-0-ll","x":24,"y":-54.6},{"m":"ukesm1-0-ll","x":31,"y":-63.5},{"m":"ukesm1-0-ll","x":38.5,"y":-70.8},{"m":"ukesm1-0-ll","x":46,"y":-76.5},{"m":"ukesm1-0-ll","x":53,"y":-80.5},{"m":"ukesm1-0-ll","x":60,"y":-84},{"m":"ukesm1-0-ll","x":67,"y":-86.5},{"m":"ukesm1-0-ll","x":74,"y":-88.3},{"m":"ukesm1-0-ll","x":81,"y":-89.7},{"m":"ukesm1-0-ll","x":96,"y":-92.4},{"m":"ukesm1-0-ll","x":110,"y":-94},{"m":"ukesm1-0-ll","x":124,"y":-94.4},{"m":"ukesm1-0-ll","x":153,"y":-94.6},{"m":"ukesm1-0-ll","x":181,"y":-95.1},{"m":"ukesm1-0-ll","x":210,"y":-94.8},{"m":"ukesm1-0-ll","x":238,"y":-95},{"m":"ukesm1-0-ll","x":266,"y":-94.8},{"m":"ukesm1-0-ll","x":285,"y":-94.9},{"m":"ukesm1-0-ll","x":299,"y":-94.6},
{"m":"mri-esm2-0","x":0,"y":0},{"m":"mri-esm2-0","x":5,"y":-12},{"m":"mri-esm2-0","x":10,"y":-23.2},{"m":"mri-esm2-0","x":17,"y":-36.5},{"m":"mri-esm2-0","x":24,"y":-48},{"m":"mri-esm2-0","x":31,"y":-56},{"m":"mri-esm2-0","x":38.5,"y":-63},{"m":"mri-esm2-0","x":46,"y":-68.5},{"m":"mri-esm2-0","x":53,"y":-73},{"m":"mri-esm2-0","x":60,"y":-77},{"m":"mri-esm2-0","x":67,"y":-80.5},{"m":"mri-esm2-0","x":74,"y":-83},{"m":"mri-esm2-0","x":81,"y":-84.9},{"m":"mri-esm2-0","x":96,"y":-87},{"m":"mri-esm2-0","x":110,"y":-88.3},{"m":"mri-esm2-0","x":124,"y":-89.2},{"m":"mri-esm2-0","x":153,"y":-90.3},{"m":"mri-esm2-0","x":181,"y":-91.1},{"m":"mri-esm2-0","x":210,"y":-91.4},{"m":"mri-esm2-0","x":238,"y":-91.6},{"m":"mri-esm2-0","x":266,"y":-91.9},{"m":"mri-esm2-0","x":285,"y":-92},{"m":"mri-esm2-0","x":299,"y":-91.9}
],
"f":[
{"m":"gfdl-esm4","x":0,"y":0},{"m":"gfdl-esm4","x":4,"y":-9},{"m":"gfdl-esm4","x":8,"y":-17},{"m":"gfdl-esm4","x":12,"y":-22.5},{"m":"gfdl-esm4","x":17,"y":-30},{"m":"gfdl-esm4","x":22,"y":-36.7},{"m":"gfdl-esm4","x":28,"y":-46},{"m":"gfdl-esm4","x":35,"y":-53.8},{"m":"gfdl-esm4","x":45,"y":-62.3},{"m":"gfdl-esm4","x":57,"y":-69.4},{"m":"gfdl-esm4","x":70,"y":-73.7},{"m":"gfdl-esm4","x":82,"y":-76.5},{"m":"gfdl-esm4","x":94,"y":-78.7},{"m":"gfdl-esm4","x":106,"y":-79.5},{"m":"gfdl-esm4","x":119,"y":-80.1},{"m":"gfdl-esm4","x":140,"y":-80.8},{"m":"gfdl-esm4","x":169,"y":-81.5},{"m":"gfdl-esm4","x":200,"y":-81.5},{"m":"gfdl-esm4","x":230,"y":-81.8},{"m":"gfdl-esm4","x":260,"y":-82},{"m":"gfdl-esm4","x":280,"y":-82.3},{"m":"gfdl-esm4","x":299,"y":-82.2},
{"m":"ipsl-cm6a-lr","x":0,"y":0},{"m":"ipsl-cm6a-lr","x":4,"y":-14},{"m":"ipsl-cm6a-lr","x":8,"y":-27},{"m":"ipsl-cm6a-lr","x":12,"y":-38},{"m":"ipsl-cm6a-lr","x":17,"y":-48.5},{"m":"ipsl-cm6a-lr","x":22,"y":-58},{"m":"ipsl-cm6a-lr","x":28,"y":-67},{"m":"ipsl-cm6a-lr","x":35,"y":-75},{"m":"ipsl-cm6a-lr","x":45,"y":-82},{"m":"ipsl-cm6a-lr","x":57,"y":-86.5},{"m":"ipsl-cm6a-lr","x":70,"y":-89},{"m":"ipsl-cm6a-lr","x":82,"y":-90.8},{"m":"ipsl-cm6a-lr","x":94,"y":-92},{"m":"ipsl-cm6a-lr","x":106,"y":-92.8},{"m":"ipsl-cm6a-lr","x":119,"y":-93.3},{"m":"ipsl-cm6a-lr","x":140,"y":-93.7},{"m":"ipsl-cm6a-lr","x":169,"y":-94},{"m":"ipsl-cm6a-lr","x":200,"y":-94.2},{"m":"ipsl-cm6a-lr","x":230,"y":-94.3},{"m":"ipsl-cm6a-lr","x":260,"y":-94.5},{"m":"ipsl-cm6a-lr","x":280,"y":-94.4},{"m":"ipsl-cm6a-lr","x":299,"y":-94.5},
{"m":"mpi-esm1-2-hr","x":0,"y":0},{"m":"mpi-esm1-2-hr","x":4,"y":-10},{"m":"mpi-esm1-2-hr","x":8,"y":-20},{"m":"mpi-esm1-2-hr","x":12,"y":-28},{"m":"mpi-esm1-2-hr","x":17,"y":-36.5},{"m":"mpi-esm1-2-hr","x":22,"y":-45},{"m":"mpi-esm1-2-hr","x":28,"y":-54},{"m":"mpi-esm1-2-hr","x":35,"y":-62},{"m":"mpi-esm1-2-hr","x":45,"y":-70},{"m":"mpi-esm1-2-hr","x":57,"y":-77},{"m":"mpi-esm1-2-hr","x":70,"y":-81},{"m":"mpi-esm1-2-hr","x":82,"y":-83.5},{"m":"mpi-esm1-2-hr","x":94,"y":-85},{"m":"mpi-esm1-2-hr","x":106,"y":-86.5},{"m":"mpi-esm1-2-hr","x":119,"y":-87.5},{"m":"mpi-esm1-2-hr","x":140,"y":-88},{"m":"mpi-esm1-2-hr","x":169,"y":-88.5},{"m":"mpi-esm1-2-hr","x":200,"y":-88.8},{"m":"mpi-esm1-2-hr","x":230,"y":-88.5},{"m":"mpi-esm1-2-hr","x":260,"y":-88.8},{"m":"mpi-esm1-2-hr","x":280,"y":-88.6},{"m":"mpi-esm1-2-hr","x":299,"y":-88.5},
{"m":"ukesm1-0-ll","x":0,"y":0},{"m":"ukesm1-0-ll","x":4,"y":-18},{"m":"ukesm1-0-ll","x":8,"y":-35},{"m":"ukesm1-0-ll","x":12,"y":-45},{"m":"ukesm1-0-ll","x":17,"y":-57},{"m":"ukesm1-0-ll","x":22,"y":-67},{"m":"ukesm1-0-ll","x":28,"y":-77},{"m":"ukesm1-0-ll","x":35,"y":-84},{"m":"ukesm1-0-ll","x":45,"y":-90},{"m":"ukesm1-0-ll","x":57,"y":-93.5},{"m":"ukesm1-0-ll","x":70,"y":-95},{"m":"ukesm1-0-ll","x":82,"y":-96},{"m":"ukesm1-0-ll","x":94,"y":-96.5},{"m":"ukesm1-0-ll","x":106,"y":-96.8},{"m":"ukesm1-0-ll","x":119,"y":-97},{"m":"ukesm1-0-ll","x":150,"y":-97.3},{"m":"ukesm1-0-ll","x":200,"y":-97.4},{"m":"ukesm1-0-ll","x":250,"y":-97.5},{"m":"ukesm1-0-ll","x":299,"y":-97.5},
{"m":"mri-esm2-0","x":0,"y":0},{"m":"mri-esm2-0","x":4,"y":-13},{"m":"mri-esm2-0","x":8,"y":-25},{"m":"mri-esm2-0","x":12,"y":-35},{"m":"mri-esm2-0","x":17,"y":-46},{"m":"mri-esm2-0","x":22,"y":-55},{"m":"mri-esm2-0","x":28,"y":-65},{"m":"mri-esm2-0","x":35,"y":-73},{"m":"mri-esm2-0","x":45,"y":-80},{"m":"mri-esm2-0","x":57,"y":-85},{"m":"mri-esm2-0","x":70,"y":-88},{"m":"mri-esm2-0","x":82,"y":-89.8},{"m":"mri-esm2-0","x":94,"y":-91},{"m":"mri-esm2-0","x":106,"y":-91.8},{"m":"mri-esm2-0","x":119,"y":-92.5},{"m":"mri-esm2-0","x":140,"y":-92.8},{"m":"mri-esm2-0","x":169,"y":-93},{"m":"mri-esm2-0","x":200,"y":-93.2},{"m":"mri-esm2-0","x":230,"y":-93.3},{"m":"mri-esm2-0","x":260,"y":-93.5},{"m":"mri-esm2-0","x":299,"y":-93.5}
],
"g":[
{"m":"gfdl-esm4","x":0,"y":0},{"m":"gfdl-esm4","x":5,"y":-14},{"m":"gfdl-esm4","x":10,"y":-25},{"m":"gfdl-esm4","x":15,"y":-32},{"m":"gfdl-esm4","x":20,"y":-40},{"m":"gfdl-esm4","x":27,"y":-55},{"m":"gfdl-esm4","x":35,"y":-64.4},{"m":"gfdl-esm4","x":45,"y":-71},{"m":"gfdl-esm4","x":57,"y":-75.8},{"m":"gfdl-esm4","x":70,"y":-79.5},{"m":"gfdl-esm4","x":82,"y":-83},{"m":"gfdl-esm4","x":95,"y":-84.5},{"m":"gfdl-esm4","x":107,"y":-85.8},{"m":"gfdl-esm4","x":130,"y":-86.5},{"m":"gfdl-esm4","x":160,"y":-86.8},{"m":"gfdl-esm4","x":200,"y":-87},{"m":"gfdl-esm4","x":240,"y":-87.2},{"m":"gfdl-esm4","x":270,"y":-87.5},{"m":"gfdl-esm4","x":299,"y":-87.5},
{"m":"ipsl-cm6a-lr","x":0,"y":0},{"m":"ipsl-cm6a-lr","x":5,"y":-18},{"m":"ipsl-cm6a-lr","x":10,"y":-33},{"m":"ipsl-cm6a-lr","x":15,"y":-45},{"m":"ipsl-cm6a-lr","x":20,"y":-55},{"m":"ipsl-cm6a-lr","x":25,"y":-63},{"m":"ipsl-cm6a-lr","x":30,"y":-70},{"m":"ipsl-cm6a-lr","x":37,"y":-77},{"m":"ipsl-cm6a-lr","x":45,"y":-82},{"m":"ipsl-cm6a-lr","x":57,"y":-87},{"m":"ipsl-cm6a-lr","x":70,"y":-90},{"m":"ipsl-cm6a-lr","x":82,"y":-91.8},{"m":"ipsl-cm6a-lr","x":94,"y":-93},{"m":"ipsl-cm6a-lr","x":106,"y":-93.8},{"m":"ipsl-cm6a-lr","x":119,"y":-94.5},{"m":"ipsl-cm6a-lr","x":140,"y":-94.8},{"m":"ipsl-cm6a-lr","x":169,"y":-95},{"m":"ipsl-cm6a-lr","x":200,"y":-95.2},{"m":"ipsl-cm6a-lr","x":240,"y":-95.3},{"m":"ipsl-cm6a-lr","x":270,"y":-95.4},{"m":"ipsl-cm6a-lr","x":299,"y":-95.5},
{"m":"mpi-esm1-2-hr","x":0,"y":0},{"m":"mpi-esm1-2-hr","x":4,"y":-8},{"m":"mpi-esm1-2-hr","x":10,"y":-20},{"m":"mpi-esm1-2-hr","x":15,"y":-26},{"m":"mpi-esm1-2-hr","x":20,"y":-30},{"m":"mpi-esm1-2-hr","x":25,"y":-32},{"m":"mpi-esm1-2-hr","x":30,"y":-38},{"m":"mpi-esm1-2-hr","x":35,"y":-45},{"m":"mpi-esm1-2-hr","x":40,"y":-49},{"m":"mpi-esm1-2-hr","x":45,"y":-53},{"m":"mpi-esm1-2-hr","x":51,"y":-55.5},{"m":"mpi-esm1-2-hr","x":57,"y":-57},{"m":"mpi-esm1-2-hr","x":64,"y":-60},{"m":"mpi-esm1-2-hr","x":70,"y":-63},{"m":"mpi-esm1-2-hr","x":82,"y":-66},{"m":"mpi-esm1-2-hr","x":94,"y":-68},{"m":"mpi-esm1-2-hr","x":106,"y":-69.5},{"m":"mpi-esm1-2-hr","x":119,"y":-70.5},{"m":"mpi-esm1-2-hr","x":132,"y":-71.5},{"m":"mpi-esm1-2-hr","x":145,"y":-72.5},{"m":"mpi-esm1-2-hr","x":157,"y":-73.5},{"m":"mpi-esm1-2-hr","x":169,"y":-73.5},{"m":"mpi-esm1-2-hr","x":185,"y":-73.2},{"m":"mpi-esm1-2-hr","x":200,"y":-73.5},{"m":"mpi-esm1-2-hr","x":220,"y":-74},{"m":"mpi-esm1-2-hr","x":240,"y":-73.5},{"m":"mpi-esm1-2-hr","x":255,"y":-73.8},{"m":"mpi-esm1-2-hr","x":265,"y":-72},{"m":"mpi-esm1-2-hr","x":280,"y":-73.5},{"m":"mpi-esm1-2-hr","x":290,"y":-74.2},{"m":"mpi-esm1-2-hr","x":299,"y":-74},
{"m":"ukesm1-0-ll","x":0,"y":0},{"m":"ukesm1-0-ll","x":3,"y":-14},{"m":"ukesm1-0-ll","x":5,"y":-25},{"m":"ukesm1-0-ll","x":10,"y":-40},{"m":"ukesm1-0-ll","x":15,"y":-53},{"m":"ukesm1-0-ll","x":20,"y":-63},{"m":"ukesm1-0-ll","x":25,"y":-71},{"m":"ukesm1-0-ll","x":30,"y":-78},{"m":"ukesm1-0-ll","x":37,"y":-84.5},{"m":"ukesm1-0-ll","x":45,"y":-89},{"m":"ukesm1-0-ll","x":57,"y":-93},{"m":"ukesm1-0-ll","x":70,"y":-95},{"m":"ukesm1-0-ll","x":82,"y":-95.8},{"m":"ukesm1-0-ll","x":94,"y":-96.5},{"m":"ukesm1-0-ll","x":119,"y":-97},{"m":"ukesm1-0-ll","x":160,"y":-97.2},{"m":"ukesm1-0-ll","x":200,"y":-97.3},{"m":"ukesm1-0-ll","x":250,"y":-97.3},{"m":"ukesm1-0-ll","x":299,"y":-97.3},
{"m":"mri-esm2-0","x":0,"y":0},{"m":"mri-esm2-0","x":5,"y":-16},{"m":"mri-esm2-0","x":10,"y":-30},{"m":"mri-esm2-0","x":15,"y":-41},{"m":"mri-esm2-0","x":20,"y":-50},{"m":"mri-esm2-0","x":25,"y":-58},{"m":"mri-esm2-0","x":30,"y":-65},{"m":"mri-esm2-0","x":37,"y":-72.5},{"m":"mri-esm2-0","x":45,"y":-78},{"m":"mri-esm2-0","x":57,"y":-84},{"m":"mri-esm2-0","x":70,"y":-88},{"m":"mri-esm2-0","x":82,"y":-90},{"m":"mri-esm2-0","x":94,"y":-91},{"m":"mri-esm2-0","x":106,"y":-91.8},{"m":"mri-esm2-0","x":119,"y":-92.5},{"m":"mri-esm2-0","x":140,"y":-92.8},{"m":"mri-esm2-0","x":169,"y":-93.3},{"m":"mri-esm2-0","x":200,"y":-93.5},{"m":"mri-esm2-0","x":240,"y":-93.8},{"m":"mri-esm2-0","x":270,"y":-93.8},{"m":"mri-esm2-0","x":299,"y":-94}
],
"h":[
{"m":"gfdl-esm4","x":0,"y":0},{"m":"gfdl-esm4","x":5,"y":-5},{"m":"gfdl-esm4","x":11,"y":-12.9},{"m":"gfdl-esm4","x":18,"y":-22},{"m":"gfdl-esm4","x":26,"y":-32},{"m":"gfdl-esm4","x":33,"y":-41},{"m":"gfdl-esm4","x":40,"y":-48},{"m":"gfdl-esm4","x":46,"y":-53},{"m":"gfdl-esm4","x":51,"y":-57},{"m":"gfdl-esm4","x":57,"y":-62},{"m":"gfdl-esm4","x":63,"y":-65.6},{"m":"gfdl-esm4","x":71,"y":-68},{"m":"gfdl-esm4","x":80,"y":-70.4},{"m":"gfdl-esm4","x":90,"y":-72},{"m":"gfdl-esm4","x":103,"y":-73},{"m":"gfdl-esm4","x":115,"y":-74.2},{"m":"gfdl-esm4","x":131,"y":-75.3},{"m":"gfdl-esm4","x":160,"y":-75.8},{"m":"gfdl-esm4","x":200,"y":-76.2},{"m":"gfdl-esm4","x":230,"y":-76.3},{"m":"gfdl-esm4","x":260,"y":-76.8},{"m":"gfdl-esm4","x":280,"y":-77},{"m":"gfdl-esm4","x":299,"y":-77.2},
{"m":"ipsl-cm6a-lr","x":0,"y":0},{"m":"ipsl-cm6a-lr","x":3,"y":-8},{"m":"ipsl-cm6a-lr","x":6,"y":-16},{"m":"ipsl-cm6a-lr","x":10,"y":-28},{"m":"ipsl-cm6a-lr","x":14,"y":-37.6},{"m":"ipsl-cm6a-lr","x":20,"y":-52},{"m":"ipsl-cm6a-lr","x":25,"y":-61},{"m":"ipsl-cm6a-lr","x":29,"y":-65.5},{"m":"ipsl-cm6a-lr","x":35,"y":-74},{"m":"ipsl-cm6a-lr","x":40,"y":-78},{"m":"ipsl-cm6a-lr","x":46,"y":-81.7},{"m":"ipsl-cm6a-lr","x":57,"y":-87},{"m":"ipsl-cm6a-lr","x":69,"y":-90.3},{"m":"ipsl-cm6a-lr","x":80,"y":-91.8},{"m":"ipsl-cm6a-lr","x":90,"y":-92.5},{"m":"ipsl-cm6a-lr","x":103,"y":-93},{"m":"ipsl-cm6a-lr","x":130,"y":-93.5},{"m":"ipsl-cm6a-lr","x":160,"y":-93.8},{"m":"ipsl-cm6a-lr","x":200,"y":-94},{"m":"ipsl-cm6a-lr","x":250,"y":-94.1},{"m":"ipsl-cm6a-lr","x":299,"y":-94.2},
{"m":"mpi-esm1-2-hr","x":0,"y":0},{"m":"mpi-esm1-2-hr","x":5,"y":-4.5},{"m":"mpi-esm1-2-hr","x":11.4,"y":-10.7},{"m":"mpi-esm1-2-hr","x":18,"y":-18},{"m":"mpi-esm1-2-hr","x":26,"y":-26.8},{"m":"mpi-esm1-2-hr","x":33,"y":-36},{"m":"mpi-esm1-2-hr","x":40,"y":-45},{"m":"mpi-esm1-2-hr","x":46,"y":-52},{"m":"mpi-esm1-2-hr","x":51,"y":-57},{"m":"mpi-esm1-2-hr","x":60,"y":-62},{"m":"mpi-esm1-2-hr","x":69,"y":-65.6},{"m":"mpi-esm1-2-hr","x":80,"y":-67.5},{"m":"mpi-esm1-2-hr","x":90,"y":-69},{"m":"mpi-esm1-2-hr","x":103,"y":-70},{"m":"mpi-esm1-2-hr","x":117,"y":-71.5},{"m":"mpi-esm1-2-hr","x":131,"y":-72.6},{"m":"mpi-esm1-2-hr","x":145,"y":-73.5},{"m":"mpi-esm1-2-hr","x":160,"y":-74.2},{"m":"mpi-esm1-2-hr","x":185,"y":-74.5},{"m":"mpi-esm1-2-hr","x":210,"y":-74.7},{"m":"mpi-esm1-2-hr","x":240,"y":-75},{"m":"mpi-esm1-2-hr","x":270,"y":-75.3},{"m":"mpi-esm1-2-hr","x":299,"y":-75.8},
{"m":"ukesm1-0-ll","x":0,"y":0},{"m":"ukesm1-0-ll","x":3,"y":-16},{"m":"ukesm1-0-ll","x":6,"y":-32},{"m":"ukesm1-0-ll","x":10,"y":-50},{"m":"ukesm1-0-ll","x":14,"y":-64.5},{"m":"ukesm1-0-ll","x":20,"y":-78},{"m":"ukesm1-0-ll","x":26,"y":-86},{"m":"ukesm1-0-ll","x":33,"y":-91},{"m":"ukesm1-0-ll","x":40,"y":-94.6},{"m":"ukesm1-0-ll","x":48,"y":-96},{"m":"ukesm1-0-ll","x":57,"y":-96.8},{"m":"ukesm1-0-ll","x":70,"y":-97.1},{"m":"ukesm1-0-ll","x":100,"y":-97.3},{"m":"ukesm1-0-ll","x":150,"y":-97.4},{"m":"ukesm1-0-ll","x":200,"y":-97.5},{"m":"ukesm1-0-ll","x":299,"y":-97.5},
{"m":"mri-esm2-0","x":0,"y":0},{"m":"mri-esm2-0","x":3,"y":-5},{"m":"mri-esm2-0","x":6,"y":-10.7},{"m":"mri-esm2-0","x":10,"y":-20},{"m":"mri-esm2-0","x":17,"y":-32},{"m":"mri-esm2-0","x":25,"y":-46},{"m":"mri-esm2-0","x":34,"y":-59},{"m":"mri-esm2-0","x":42,"y":-68},{"m":"mri-esm2-0","x":51,"y":-75},{"m":"mri-esm2-0","x":62,"y":-80},{"m":"mri-esm2-0","x":74,"y":-84},{"m":"mri-esm2-0","x":88,"y":-85.8},{"m":"mri-esm2-0","x":103,"y":-86.5},{"m":"mri-esm2-0","x":130,"y":-87.2},{"m":"mri-esm2-0","x":160,"y":-87.6},{"m":"mri-esm2-0","x":200,"y":-88},{"m":"mri-esm2-0","x":240,"y":-88.3},{"m":"mri-esm2-0","x":270,"y":-88.5},{"m":"mri-esm2-0","x":299,"y":-88.7}
],
"i":[
{"m":"gfdl-esm4","x":0,"y":0},{"m":"gfdl-esm4","x":4,"y":-4.8},{"m":"gfdl-esm4","x":8,"y":-10},{"m":"gfdl-esm4","x":12,"y":-15.6},{"m":"gfdl-esm4","x":18,"y":-23.5},{"m":"gfdl-esm4","x":25,"y":-31.8},{"m":"gfdl-esm4","x":31,"y":-39},{"m":"gfdl-esm4","x":37,"y":-45.9},{"m":"gfdl-esm4","x":45,"y":-51},{"m":"gfdl-esm4","x":54,"y":-55.6},{"m":"gfdl-esm4","x":62,"y":-58.5},{"m":"gfdl-esm4","x":70,"y":-61},{"m":"gfdl-esm4","x":78,"y":-63.5},{"m":"gfdl-esm4","x":87,"y":-65.4},{"m":"gfdl-esm4","x":97,"y":-66.5},{"m":"gfdl-esm4","x":107,"y":-67.5},{"m":"gfdl-esm4","x":118,"y":-69},{"m":"gfdl-esm4","x":128,"y":-70.2},{"m":"gfdl-esm4","x":148,"y":-71.3},{"m":"gfdl-esm4","x":169,"y":-72.4},{"m":"gfdl-esm4","x":190,"y":-72.5},{"m":"gfdl-esm4","x":210,"y":-73},{"m":"gfdl-esm4","x":231,"y":-72.8},{"m":"gfdl-esm4","x":252,"y":-73.2},{"m":"gfdl-esm4","x":270,"y":-73},{"m":"gfdl-esm4","x":285,"y":-73.5},{"m":"gfdl-esm4","x":292,"y":-74.6},{"m":"gfdl-esm4","x":299,"y":-73.5},
{"m":"ipsl-cm6a-lr","x":0,"y":0},{"m":"ipsl-cm6a-lr","x":4,"y":-12.3},{"m":"ipsl-cm6a-lr","x":8,"y":-19},{"m":"ipsl-cm6a-lr","x":12,"y":-26.4},{"m":"ipsl-cm6a-lr","x":16,"y":-35},{"m":"ipsl-cm6a-lr","x":21,"y":-43.7},{"m":"ipsl-cm6a-lr","x":25,"y":-51.5},{"m":"ipsl-cm6a-lr","x":29,"y":-58.9},{"m":"ipsl-cm6a-lr","x":33,"y":-64.5},{"m":"ipsl-cm6a-lr","x":37,"y":-69.7},{"m":"ipsl-cm6a-lr","x":45,"y":-76.5},{"m":"ipsl-cm6a-lr","x":54,"y":-81.6},{"m":"ipsl-cm6a-lr","x":62,"y":-84.8},{"m":"ipsl-cm6a-lr","x":70,"y":-87},{"m":"ipsl-cm6a-lr","x":87,"y":-89.2},{"m":"ipsl-cm6a-lr","x":107,"y":-90},{"m":"ipsl-cm6a-lr","x":128,"y":-90.8},{"m":"ipsl-cm6a-lr","x":169,"y":-91.3},{"m":"ipsl-cm6a-lr","x":210,"y":-91.6},{"m":"ipsl-cm6a-lr","x":250,"y":-91.5},{"m":"ipsl-cm6a-lr","x":280,"y":-91.7},{"m":"ipsl-cm6a-lr","x":299,"y":-91.6},
{"m":"mpi-esm1-2-hr","x":0,"y":0},{"m":"mpi-esm1-2-hr","x":4,"y":-2.6},{"m":"mpi-esm1-2-hr","x":8,"y":-7},{"m":"mpi-esm1-2-hr","x":12,"y":-12.3},{"m":"mpi-esm1-2-hr","x":18,"y":-20},{"m":"mpi-esm1-2-hr","x":25,"y":-28.6},{"m":"mpi-esm1-2-hr","x":31,"y":-38},{"m":"mpi-esm1-2-hr","x":37,"y":-48},{"m":"mpi-esm1-2-hr","x":45,"y":-55},{"m":"mpi-esm1-2-hr","x":54,"y":-61},{"m":"mpi-esm1-2-hr","x":62,"y":-65.2},{"m":"mpi-esm1-2-hr","x":70,"y":-68.6},{"m":"mpi-esm1-2-hr","x":78,"y":-71},{"m":"mpi-esm1-2-hr","x":87,"y":-73},{"m":"mpi-esm1-2-hr","x":107,"y":-75.1},{"m":"mpi-esm1-2-hr","x":128,"y":-77.3},{"m":"mpi-esm1-2-hr","x":150,"y":-77.8},{"m":"mpi-esm1-2-hr","x":169,"y":-78.4},{"m":"mpi-esm1-2-hr","x":190,"y":-78.5},{"m":"mpi-esm1-2-hr","x":210,"y":-78.9},{"m":"mpi-esm1-2-hr","x":231,"y":-79},{"m":"mpi-esm1-2-hr","x":252,"y":-79.4},{"m":"mpi-esm1-2-hr","x":275,"y":-79.2},{"m":"mpi-esm1-2-hr","x":290,"y":-78.2},{"m":"mpi-esm1-2-hr","x":299,"y":-79.4},
{"m":"ukesm1-0-ll","x":0,"y":0},{"m":"ukesm1-0-ll","x":4,"y":-19.9},{"m":"ukesm1-0-ll","x":8,"y":-29},{"m":"ukesm1-0-ll","x":12,"y":-38.3},{"m":"ukesm1-0-ll","x":16,"y":-47.5},{"m":"ukesm1-0-ll","x":21,"y":-56.7},{"m":"ukesm1-0-ll","x":25,"y":-64},{"m":"ukesm1-0-ll","x":29,"y":-70.8},{"m":"ukesm1-0-ll","x":33,"y":-75.5},{"m":"ukesm1-0-ll","x":37,"y":-79.4},{"m":"ukesm1-0-ll","x":45,"y":-84.5},{"m":"ukesm1-0-ll","x":54,"y":-88},{"m":"ukesm1-0-ll","x":62,"y":-90.3},{"m":"ukesm1-0-ll","x":70,"y":-91.9},{"m":"ukesm1-0-ll","x":87,"y":-93},{"m":"ukesm1-0-ll","x":107,"y":-93.5},{"m":"ukesm1-0-ll","x":128,"y":-94},{"m":"ukesm1-0-ll","x":169,"y":-94.3},{"m":"ukesm1-0-ll","x":210,"y":-94.5},{"m":"ukesm1-0-ll","x":250,"y":-94.4},{"m":"ukesm1-0-ll","x":280,"y":-94.5},{"m":"ukesm1-0-ll","x":299,"y":-94.6},
{"m":"mri-esm2-0","x":0,"y":0},{"m":"mri-esm2-0","x":4,"y":-17.7},{"m":"mri-esm2-0","x":8,"y":-26.5},{"m":"mri-esm2-0","x":12,"y":-35},{"m":"mri-esm2-0","x":16,"y":-45},{"m":"mri-esm2-0","x":21,"y":-54.5},{"m":"mri-esm2-0","x":25,"y":-62.5},{"m":"mri-esm2-0","x":29,"y":-69.7},{"m":"mri-esm2-0","x":33,"y":-74.5},{"m":"mri-esm2-0","x":37,"y":-78.4},{"m":"mri-esm2-0","x":45,"y":-83.5},{"m":"mri-esm2-0","x":54,"y":-87},{"m":"mri-esm2-0","x":62,"y":-89.5},{"m":"mri-esm2-0","x":70,"y":-91.3},{"m":"mri-esm2-0","x":87,"y":-92.7},{"m":"mri-esm2-0","x":107,"y":-93.3},{"m":"mri-esm2-0","x":128,"y":-93.7},{"m":"mri-esm2-0","x":169,"y":-93.9},{"m":"mri-esm2-0","x":210,"y":-94},{"m":"mri-esm2-0","x":250,"y":-93.9},{"m":"mri-esm2-0","x":280,"y":-94},{"m":"mri-esm2-0","x":299,"y":-94}
],
"j":[
{"m":"gfdl-esm4","x":0,"y":0},{"m":"gfdl-esm4","x":5,"y":-12},{"m":"gfdl-esm4","x":10,"y":-24},{"m":"gfdl-esm4","x":15,"y":-34},{"m":"gfdl-esm4","x":20,"y":-44},{"m":"gfdl-esm4","x":26,"y":-53},{"m":"gfdl-esm4","x":32,"y":-62},{"m":"gfdl-esm4","x":38,"y":-69},{"m":"gfdl-esm4","x":45,"y":-75},{"m":"gfdl-esm4","x":51,"y":-79},{"m":"gfdl-esm4","x":57,"y":-82},{"m":"gfdl-esm4","x":64,"y":-84.3},{"m":"gfdl-esm4","x":70,"y":-86},{"m":"gfdl-esm4","x":82,"y":-87.5},{"m":"gfdl-esm4","x":94,"y":-88.6},{"m":"gfdl-esm4","x":110,"y":-89.5},{"m":"gfdl-esm4","x":130,"y":-90},{"m":"gfdl-esm4","x":160,"y":-90.5},{"m":"gfdl-esm4","x":200,"y":-90.8},{"m":"gfdl-esm4","x":240,"y":-91.2},{"m":"gfdl-esm4","x":270,"y":-91.5},{"m":"gfdl-esm4","x":299,"y":-91.9},
{"m":"ipsl-cm6a-lr","x":0,"y":0},{"m":"ipsl-cm6a-lr","x":3,"y":-14},{"m":"ipsl-cm6a-lr","x":6,"y":-25},{"m":"ipsl-cm6a-lr","x":10,"y":-38},{"m":"ipsl-cm6a-lr","x":15,"y":-52},{"m":"ipsl-cm6a-lr","x":20,"y":-62},{"m":"ipsl-cm6a-lr","x":26,"y":-73},{"m":"ipsl-cm6a-lr","x":32,"y":-82},{"m":"ipsl-cm6a-lr","x":38,"y":-88},{"m":"ipsl-cm6a-lr","x":45,"y":-92},{"m":"ipsl-cm6a-lr","x":51,"y":-94.5},{"m":"ipsl-cm6a-lr","x":57,"y":-96},{"m":"ipsl-cm6a-lr","x":70,"y":-97.9},{"m":"ipsl-cm6a-lr","x":94,"y":-98.4},{"m":"ipsl-cm6a-lr","x":130,"y":-98.6},{"m":"ipsl-cm6a-lr","x":200,"y":-98.8},{"m":"ipsl-cm6a-lr","x":299,"y":-98.9},
{"m":"mpi-esm1-2-hr","x":0,"y":0},{"m":"mpi-esm1-2-hr","x":5,"y":-11},{"m":"mpi-esm1-2-hr","x":10,"y":-23},{"m":"mpi-esm1-2-hr","x":15,"y":-33},{"m":"mpi-esm1-2-hr","x":20,"y":-43.5},{"m":"mpi-esm1-2-hr","x":26,"y":-53},{"m":"mpi-esm1-2-hr","x":32,"y":-62},{"m":"mpi-esm1-2-hr","x":38,"y":-69.5},{"m":"mpi-esm1-2-hr","x":45,"y":-75.5},{"m":"mpi-esm1-2-hr","x":51,"y":-79.5},{"m":"mpi-esm1-2-hr","x":57,"y":-82.5},{"m":"mpi-esm1-2-hr","x":64,"y":-85},{"m":"mpi-esm1-2-hr","x":70,"y":-86.8},{"m":"mpi-esm1-2-hr","x":82,"y":-88.5},{"m":"mpi-esm1-2-hr","x":94,"y":-89.6},{"m":"mpi-esm1-2-hr","x":110,"y":-90.5},{"m":"mpi-esm1-2-hr","x":130,"y":-91.3},{"m":"mpi-esm1-2-hr","x":160,"y":-91.8},{"m":"mpi-esm1-2-hr","x":200,"y":-92},{"m":"mpi-esm1-2-hr","x":240,"y":-92.4},{"m":"mpi-esm1-2-hr","x":270,"y":-92.3},{"m":"mpi-esm1-2-hr","x":299,"y":-92.6},
{"m":"ukesm1-0-ll","x":0,"y":0},{"m":"ukesm1-0-ll","x":3,"y":-18},{"m":"ukesm1-0-ll","x":5,"y":-30},{"m":"ukesm1-0-ll","x":8,"y":-42},{"m":"ukesm1-0-ll","x":10,"y":-50},{"m":"ukesm1-0-ll","x":13,"y":-60},{"m":"ukesm1-0-ll","x":15,"y":-68},{"m":"ukesm1-0-ll","x":20,"y":-80},{"m":"ukesm1-0-ll","x":25,"y":-88},{"m":"ukesm1-0-ll","x":30,"y":-93},{"m":"ukesm1-0-ll","x":35,"y":-95.5},{"m":"ukesm1-0-ll","x":40,"y":-97.5},{"m":"ukesm1-0-ll","x":50,"y":-99},{"m":"ukesm1-0-ll","x":70,"y":-99.8},{"m":"ukesm1-0-ll","x":120,"y":-100},{"m":"ukesm1-0-ll","x":299,"y":-100},
{"m":"mri-esm2-0","x":0,"y":0},{"m":"mri-esm2-0","x":4,"y":-12},{"m":"mri-esm2-0","x":10,"y":-30},{"m":"mri-esm2-0","x":15,"y":-42},{"m":"mri-esm2-0","x":20,"y":-51},{"m":"mri-esm2-0","x":26,"y":-60.5},{"m":"mri-esm2-0","x":32,"y":-69.6},{"m":"mri-esm2-0","x":38,"y":-76.5},{"m":"mri-esm2-0","x":45,"y":-82},{"m":"mri-esm2-0","x":51,"y":-85.5},{"m":"mri-esm2-0","x":57,"y":-88},{"m":"mri-esm2-0","x":64,"y":-90},{"m":"mri-esm2-0","x":70,"y":-91.5},{"m":"mri-esm2-0","x":82,"y":-93},{"m":"mri-esm2-0","x":94,"y":-94.3},{"m":"mri-esm2-0","x":120,"y":-95.2},{"m":"mri-esm2-0","x":145,"y":-95.7},{"m":"mri-esm2-0","x":200,"y":-96},{"m":"mri-esm2-0","x":250,"y":-96.1},{"m":"mri-esm2-0","x":299,"y":-96.2}
],
"k":[
{"m":"gfdl-esm4","x":0,"y":0},{"m":"gfdl-esm4","x":4,"y":-10},{"m":"gfdl-esm4","x":7,"y":-18},{"m":"gfdl-esm4","x":10,"y":-26},{"m":"gfdl-esm4","x":15,"y":-40},{"m":"gfdl-esm4","x":20,"y":-54.5},{"m":"gfdl-esm4","x":26,"y":-68},{"m":"gfdl-esm4","x":32,"y":-80},{"m":"gfdl-esm4","x":38,"y":-85},{"m":"gfdl-esm4","x":45,"y":-88.6},{"m":"gfdl-esm4","x":51,"y":-91},{"m":"gfdl-esm4","x":57,"y":-93},{"m":"gfdl-esm4","x":70,"y":-95},{"m":"gfdl-esm4","x":82,"y":-95.7},{"m":"gfdl-esm4","x":100,"y":-96.5},{"m":"gfdl-esm4","x":130,"y":-97},{"m":"gfdl-esm4","x":180,"y":-97.4},{"m":"gfdl-esm4","x":240,"y":-97.7},{"m":"gfdl-esm4","x":299,"y":-97.9},
{"m":"ipsl-cm6a-lr","x":0,"y":0},{"m":"ipsl-cm6a-lr","x":3,"y":-18},{"m":"ipsl-cm6a-lr","x":5,"y":-30},{"m":"ipsl-cm6a-lr","x":8,"y":-45},{"m":"ipsl-cm6a-lr","x":10,"y":-55},{"m":"ipsl-cm6a-lr","x":13,"y":-67},{"m":"ipsl-cm6a-lr","x":15,"y":-75},{"m":"ipsl-cm6a-lr","x":18,"y":-82},{"m":"ipsl-cm6a-lr","x":20,"y":-87},{"m":"ipsl-cm6a-lr","x":25,"y":-93},{"m":"ipsl-cm6a-lr","x":30,"y":-96},{"m":"ipsl-cm6a-lr","x":40,"y":-98.5},{"m":"ipsl-cm6a-lr","x":60,"y":-99.5},{"m":"ipsl-cm6a-lr","x":100,"y":-99.7},{"m":"ipsl-cm6a-lr","x":299,"y":-99.8},
{"m":"mpi-esm1-2-hr","x":0,"y":0},{"m":"mpi-esm1-2-hr","x":4,"y":-9},{"m":"mpi-esm1-2-hr","x":7,"y":-17},{"m":"mpi-esm1-2-hr","x":10,"y":-25},{"m":"mpi-esm1-2-hr","x":15,"y":-39},{"m":"mpi-esm1-2-hr","x":20,"y":-53},{"m":"mpi-esm1-2-hr","x":26,"y":-67},{"m":"mpi-esm1-2-hr","x":32,"y":-79},{"m":"mpi-esm1-2-hr","x":38,"y":-84.5},{"m":"mpi-esm1-2-hr","x":45,"y":-88.3},{"m":"mpi-esm1-2-hr","x":51,"y":-90.8},{"m":"mpi-esm1-2-hr","x":57,"y":-92.7},{"m":"mpi-esm1-2-hr","x":70,"y":-94.8},{"m":"mpi-esm1-2-hr","x":82,"y":-95.8},{"m":"mpi-esm1-2-hr","x":100,"y":-96.6},{"m":"mpi-esm1-2-hr","x":130,"y":-97.1},{"m":"mpi-esm1-2-hr","x":180,"y":-97.4},{"m":"mpi-esm1-2-hr","x":240,"y":-97.5},{"m":"mpi-esm1-2-hr","x":299,"y":-97.6},
{"m":"ukesm1-0-ll","x":0,"y":0},{"m":"ukesm1-0-ll","x":3,"y":-22},{"m":"ukesm1-0-ll","x":5,"y":-38},{"m":"ukesm1-0-ll","x":8,"y":-55},{"m":"ukesm1-0-ll","x":10,"y":-65},{"m":"ukesm1-0-ll","x":13,"y":-76},{"m":"ukesm1-0-ll","x":15,"y":-83},{"m":"ukesm1-0-ll","x":18,"y":-89},{"m":"ukesm1-0-ll","x":20,"y":-92},{"m":"ukesm1-0-ll","x":25,"y":-96.5},{"m":"ukesm1-0-ll","x":30,"y":-98.5},{"m":"ukesm1-0-ll","x":40,"y":-99.5},{"m":"ukesm1-0-ll","x":60,"y":-99.9},{"m":"ukesm1-0-ll","x":299,"y":-100},
{"m":"mri-esm2-0","x":0,"y":0},{"m":"mri-esm2-0","x":4,"y":-13},{"m":"mri-esm2-0","x":7,"y":-22},{"m":"mri-esm2-0","x":10,"y":-33},{"m":"mri-esm2-0","x":15,"y":-49},{"m":"mri-esm2-0","x":20,"y":-62},{"m":"mri-esm2-0","x":25,"y":-73},{"m":"mri-esm2-0","x":30,"y":-82},{"m":"mri-esm2-0","x":35,"y":-86.5},{"m":"mri-esm2-0","x":40,"y":-90},{"m":"mri-esm2-0","x":50,"y":-94},{"m":"mri-esm2-0","x":60,"y":-95.8},{"m":"mri-esm2-0","x":70,"y":-97},{"m":"mri-esm2-0","x":100,"y":-98.3},{"m":"mri-esm2-0","x":150,"y":-98.7},{"m":"mri-esm2-0","x":200,"y":-98.9},{"m":"mri-esm2-0","x":299,"y":-99}
],
"l":[
{"m":"gfdl-esm4","x":0,"y":0},{"m":"gfdl-esm4","x":3,"y":-25},{"m":"gfdl-esm4","x":6,"y":-48},{"m":"gfdl-esm4","x":9,"y":-62},{"m":"gfdl-esm4","x":12,"y":-70},{"m":"gfdl-esm4","x":16,"y":-77},{"m":"gfdl-esm4","x":20,"y":-82},{"m":"gfdl-esm4","x":26,"y":-87},{"m":"gfdl-esm4","x":32,"y":-91},{"m":"gfdl-esm4","x":40,"y":-94.5},{"m":"gfdl-esm4","x":50,"y":-97},{"m":"gfdl-esm4","x":60,"y":-98},{"m":"gfdl-esm4","x":75,"y":-98.6},{"m":"gfdl-esm4","x":100,"y":-98.8},{"m":"gfdl-esm4","x":200,"y":-98.9},{"m":"gfdl-esm4","x":299,"y":-98.9},
{"m":"ipsl-cm6a-lr","x":0,"y":0},{"m":"ipsl-cm6a-lr","x":3,"y":-45},{"m":"ipsl-cm6a-lr","x":6,"y":-70},{"m":"ipsl-cm6a-lr","x":9,"y":-84},{"m":"ipsl-cm6a-lr","x":12,"y":-91},{"m":"ipsl-cm6a-lr","x":16,"y":-96},{"m":"ipsl-cm6a-lr","x":20,"y":-98},{"m":"ipsl-cm6a-lr","x":26,"y":-99.3},{"m":"ipsl-cm6a-lr","x":40,"y":-99.8},{"m":"ipsl-cm6a-lr","x":299,"y":-100},
{"m":"mpi-esm1-2-hr","x":0,"y":0},{"m":"mpi-esm1-2-hr","x":3,"y":-28},{"m":"mpi-esm1-2-hr","x":6,"y":-50},{"m":"mpi-esm1-2-hr","x":9,"y":-63},{"m":"mpi-esm1-2-hr","x":12,"y":-71},{"m":"mpi-esm1-2-hr","x":16,"y":-78},{"m":"mpi-esm1-2-hr","x":20,"y":-83},{"m":"mpi-esm1-2-hr","x":26,"y":-88.5},{"m":"mpi-esm1-2-hr","x":32,"y":-92.5},{"m":"mpi-esm1-2-hr","x":40,"y":-96},{"m":"mpi-esm1-2-hr","x":50,"y":-98},{"m":"mpi-esm1-2-hr","x":60,"y":-98.8},{"m":"mpi-esm1-2-hr","x":100,"y":-99.2},{"m":"mpi-esm1-2-hr","x":200,"y":-99.3},{"m":"mpi-esm1-2-hr","x":299,"y":-99.3},
{"m":"ukesm1-0-ll","x":0,"y":0},{"m":"ukesm1-0-ll","x":3,"y":-48},{"m":"ukesm1-0-ll","x":6,"y":-74},{"m":"ukesm1-0-ll","x":9,"y":-87},{"m":"ukesm1-0-ll","x":12,"y":-93},{"m":"ukesm1-0-ll","x":16,"y":-97},{"m":"ukesm1-0-ll","x":20,"y":-98.7},{"m":"ukesm1-0-ll","x":26,"y":-99.5},{"m":"ukesm1-0-ll","x":40,"y":-99.9},{"m":"ukesm1-0-ll","x":299,"y":-100},
{"m":"mri-esm2-0","x":0,"y":0},{"m":"mri-esm2-0","x":3,"y":-35},{"m":"mri-esm2-0","x":6,"y":-58},{"m":"mri-esm2-0","x":9,"y":-72},{"m":"mri-esm2-0","x":12,"y":-81},{"m":"mri-esm2-0","x":16,"y":-88},{"m":"mri-esm2-0","x":20,"y":-92},{"m":"mri-esm2-0","x":26,"y":-95.5},{"m":"mri-esm2-0","x":32,"y":-97.5},{"m":"mri-esm2-0","x":40,"y":-98.8},{"m":"mri-esm2-0","x":60,"y":-99.6},{"m":"mri-esm2-0","x":299,"y":-99.8}
],
"legend":[{"model":"gfdl-esm4"},{"model":"ipsl-cm6a-lr"},{"model":"mpi-esm1-2-hr"},{"model":"ukesm1-0-ll"},{"model":"mri-esm2-0"}]
},
"concat":[
{"width":461,"height":341,"title":{"text":"Historical","dx":4},"layer":[
 {"data":{"values":[{}]},"mark":{"type":"rule","color":"#c8c8c8","strokeDash":[6,3.5],"strokeWidth":1.5},"encoding":{"y":{"datum":0}}},
 {"data":{"name":"a"},"mark":"line","encoding":{"x":{"field":"x","type":"quantitative","scale":{"domain":[-15.5,314],"nice":false,"zero":false},"axis":null},"y":{"field":"y","type":"quantitative","scale":{"domain":[-62.8,49.3],"nice":false,"zero":false},"axis":{"values":[-50,-25,0,25],"title":null}},"color":{"field":"m","type":"nominal","scale":{"domain":["gfdl-esm4","ipsl-cm6a-lr","mpi-esm1-2-hr","ukesm1-0-ll","mri-esm2-0"],"range":["#161b72","#a51d1d","#dc8fdf","#fb9b4d","#2db46b"]},"legend":null}}},
 {"data":{"values":[{"t":"1851 – 1870"}]},"mark":{"type":"text","align":"left","baseline":"alphabetic","dx":19,"dy":40,"fontSize":36},"encoding":{"x":{"datum":-15.5},"y":{"datum":49.3},"text":{"field":"t"}}},
 {"data":{"values":[{"t":"(a)"}]},"mark":{"type":"text","align":"left","baseline":"alphabetic","dx":9,"dy":-23,"fontSize":36,"fontWeight":"bold"},"encoding":{"x":{"datum":-15.5},"y":{"datum":-62.8},"text":{"field":"t"}}}
]},
{"width":442,"height":341,"title":{"text":"SSP1-2.6","dx":12},"layer":[
 {"data":{"values":[{}]},"mark":{"type":"rule","color":"#c8c8c8","strokeDash":[6,3.5],"strokeWidth":1.5},"encoding":{"y":{"datum":0}}},
 {"data":{"name":"e"},"mark":"line","encoding":{"x":{"field":"x","type":"quantitative","scale":{"domain":[-15.5,314],"nice":false,"zero":false},"axis":null},"y":{"field":"y","type":"quantitative","scale":{"domain":[-105.2,5.5],"nice":false,"zero":false},"axis":{"values":[-100,-75,-50,-25,0],"title":null}},"color":{"field":"m","type":"nominal","scale":{"domain":["gfdl-esm4","ipsl-cm6a-lr","mpi-esm1-2-hr","ukesm1-0-ll","mri-esm2-0"],"range":["#161b72","#a51d1d","#dc8fdf","#fb9b4d","#2db46b"]},"legend":null}}},
 {"data":{"values":[{"t":"2021 – 2040"}]},"mark":{"type":"text","align":"right","baseline":"alphabetic","dx":-32,"dy":40,"fontSize":36},"encoding":{"x":{"datum":314},"y":{"datum":5.5},"text":{"field":"t"}}},
 {"data":{"values":[{"t":"(e)"}]},"mark":{"type":"text","align":"left","baseline":"alphabetic","dx":9,"dy":-23,"fontSize":36,"fontWeight":"bold"},"encoding":{"x":{"datum":-15.5},"y":{"datum":-105.2},"text":{"field":"t"}}}
]},
{"width":442,"height":341,"title":{"text":"SSP5-8.5","dx":12},"layer":[
 {"data":{"values":[{}]},"mark":{"type":"rule","color":"#c8c8c8","strokeDash":[6,3.5],"strokeWidth":1.5},"encoding":{"y":{"datum":0}}},
 {"data":{"name":"i"},"mark":"line","encoding":{"x":{"field":"x","type":"quantitative","scale":{"domain":[-15.5,314],"nice":false,"zero":false},"axis":null},"y":{"field":"y","type":"quantitative","scale":{"domain":[-105.2,5.5],"nice":false,"zero":false},"axis":{"values":[-100,-75,-50,-25,0],"title":null}},"color":{"field":"m","type":"nominal","scale":{"domain":["gfdl-esm4","ipsl-cm6a-lr","mpi-esm1-2-hr","ukesm1-0-ll","mri-esm2-0"],"range":["#161b72","#a51d1d","#dc8fdf","#fb9b4d","#2db46b"]},"legend":null}}},
 {"data":{"values":[{"t":"2021 – 2040"}]},"mark":{"type":"text","align":"right","baseline":"alphabetic","dx":-24,"dy":40,"fontSize":36},"encoding":{"x":{"datum":314},"y":{"datum":5.5},"text":{"field":"t"}}},
 {"data":{"values":[{"t":"(i)"}]},"mark":{"type":"text","align":"left","baseline":"alphabetic","dx":9,"dy":-23,"fontSize":36,"fontWeight":"bold"},"encoding":{"x":{"datum":-15.5},"y":{"datum":-105.2},"text":{"field":"t"}}}
]},
{"width":4,"height":341,"view":{"stroke":null},"data":{"values":[{}]},"mark":{"type":"point","opacity":0},"encoding":{}},
{"width":461,"height":341,"layer":[
 {"data":{"values":[{}]},"mark":{"type":"rule","color":"#c8c8c8","strokeDash":[6,3.5],"strokeWidth":1.5},"encoding":{"y":{"datum":0}}},
 {"data":{"name":"b"},"mark":"line","encoding":{"x":{"field":"x","type":"quantitative","scale":{"domain":[-15.5,314],"nice":false,"zero":false},"axis":null},"y":{"field":"y","type":"quantitative","scale":{"domain":[-67,117],"nice":false,"zero":false},"axis":{"values":[-50,0,50,100],"title":"% Change in Volume","titleX":-127.5,"titleY":319,"titleAngle":-90,"titleAlign":"center","titleBaseline":"middle"}},"color":{"field":"m","type":"nominal","scale":{"domain":["gfdl-esm4","ipsl-cm6a-lr","mpi-esm1-2-hr","ukesm1-0-ll","mri-esm2-0"],"range":["#161b72","#a51d1d","#dc8fdf","#fb9b4d","#2db46b"]},"legend":null}}},
 {"data":{"values":[{"t":"1901 – 1920"}]},"mark":{"type":"text","align":"left","baseline":"alphabetic","dx":19,"dy":40,"fontSize":36},"encoding":{"x":{"datum":-15.5},"y":{"datum":117},"text":{"field":"t"}}},
 {"data":{"values":[{"t":"(b)"}]},"mark":{"type":"text","align":"left","baseline":"alphabetic","dx":9,"dy":-23,"fontSize":36,"fontWeight":"bold"},"encoding":{"x":{"datum":-15.5},"y":{"datum":-67},"text":{"field":"t"}}}
]},
{"width":442,"height":341,"layer":[
 {"data":{"values":[{}]},"mark":{"type":"rule","color":"#c8c8c8","strokeDash":[6,3.5],"strokeWidth":1.5},"encoding":{"y":{"datum":0}}},
 {"data":{"name":"f"},"mark":"line","encoding":{"x":{"field":"x","type":"quantitative","scale":{"domain":[-15.5,314],"nice":false,"zero":false},"axis":null},"y":{"field":"y","type":"quantitative","scale":{"domain":[-105.2,5.5],"nice":false,"zero":false},"axis":{"values":[-100,-75,-50,-25,0],"title":null}},"color":{"field":"m","type":"nominal","scale":{"domain":["gfdl-esm4","ipsl-cm6a-lr","mpi-esm1-2-hr","ukesm1-0-ll","mri-esm2-0"],"range":["#161b72","#a51d1d","#dc8fdf","#fb9b4d","#2db46b"]},"legend":null}}},
 {"data":{"values":[{"t":"2041 – 2060"}]},"mark":{"type":"text","align":"right","baseline":"alphabetic","dx":-32,"dy":40,"fontSize":36},"encoding":{"x":{"datum":314},"y":{"datum":5.5},"text":{"field":"t"}}},
 {"data":{"values":[{"t":"(f)"}]},"mark":{"type":"text","align":"left","baseline":"alphabetic","dx":9,"dy":-23,"fontSize":36,"fontWeight":"bold"},"encoding":{"x":{"datum":-15.5},"y":{"datum":-105.2},"text":{"field":"t"}}}
]},
{"width":442,"height":341,"layer":[
 {"data":{"values":[{}]},"mark":{"type":"rule","color":"#c8c8c8","strokeDash":[6,3.5],"strokeWidth":1.5},"encoding":{"y":{"datum":0}}},
 {"data":{"name":"j"},"mark":"line","encoding":{"x":{"field":"x","type":"quantitative","scale":{"domain":[-15.5,314],"nice":false,"zero":false},"axis":null},"y":{"field":"y","type":"quantitative","scale":{"domain":[-105.2,5.5],"nice":false,"zero":false},"axis":{"values":[-100,-75,-50,-25,0],"title":null}},"color":{"field":"m","type":"nominal","scale":{"domain":["gfdl-esm4","ipsl-cm6a-lr","mpi-esm1-2-hr","ukesm1-0-ll","mri-esm2-0"],"range":["#161b72","#a51d1d","#dc8fdf","#fb9b4d","#2db46b"]},"legend":null}}},
 {"data":{"values":[{"t":"2041 – 2060"}]},"mark":{"type":"text","align":"right","baseline":"alphabetic","dx":-24,"dy":40,"fontSize":36},"encoding":{"x":{"datum":314},"y":{"datum":5.5},"text":{"field":"t"}}},
 {"data":{"values":[{"t":"(j)"}]},"mark":{"type":"text","align":"left","baseline":"alphabetic","dx":9,"dy":-23,"fontSize":36,"fontWeight":"bold"},"encoding":{"x":{"datum":-15.5},"y":{"datum":-105.2},"text":{"field":"t"}}}
]},
{"width":4,"height":341,"view":{"stroke":null},"data":{"name":"legend"},"layer":[
 {"mark":{"type":"tick","orient":"horizontal","size":97,"thickness":6},"encoding":{"y":{"field":"model","type":"nominal","sort":null,"scale":{"type":"point","range":[21,595],"padding":0},"axis":null},"color":{"field":"model","type":"nominal","sort":null,"scale":{"domain":["gfdl-esm4","ipsl-cm6a-lr","mpi-esm1-2-hr","ukesm1-0-ll","mri-esm2-0"],"range":["#0f1f5f","#a3321b","#e79ddb","#fbb514","#3ccf78"]},"legend":null}}},
 {"mark":{"type":"text","dy":48,"fontSize":33,"align":"center","baseline":"middle"},"encoding":{"y":{"field":"model","type":"nominal","sort":null},"text":{"field":"model"}}}
]},
{"width":461,"height":341,"layer":[
 {"data":{"values":[{}]},"mark":{"type":"rule","color":"#c8c8c8","strokeDash":[6,3.5],"strokeWidth":1.5},"encoding":{"y":{"datum":0}}},
 {"data":{"name":"c"},"mark":"line","encoding":{"x":{"field":"x","type":"quantitative","scale":{"domain":[-15.5,314],"nice":false,"zero":false},"axis":null},"y":{"field":"y","type":"quantitative","scale":{"domain":[-57.7,96],"nice":false,"zero":false},"axis":{"values":[-50,0,50],"title":null}},"color":{"field":"m","type":"nominal","scale":{"domain":["gfdl-esm4","ipsl-cm6a-lr","mpi-esm1-2-hr","ukesm1-0-ll","mri-esm2-0"],"range":["#161b72","#a51d1d","#dc8fdf","#fb9b4d","#2db46b"]},"legend":null}}},
 {"data":{"values":[{"t":"1951 – 1970"}]},"mark":{"type":"text","align":"left","baseline":"alphabetic","dx":19,"dy":40,"fontSize":36},"encoding":{"x":{"datum":-15.5},"y":{"datum":96},"text":{"field":"t"}}},
 {"data":{"values":[{"t":"(c)"}]},"mark":{"type":"text","align":"left","baseline":"alphabetic","dx":9,"dy":-23,"fontSize":36,"fontWeight":"bold"},"encoding":{"x":{"datum":-15.5},"y":{"datum":-57.7},"text":{"field":"t"}}}
]},
{"width":442,"height":341,"layer":[
 {"data":{"values":[{}]},"mark":{"type":"rule","color":"#c8c8c8","strokeDash":[6,3.5],"strokeWidth":1.5},"encoding":{"y":{"datum":0}}},
 {"data":{"name":"g"},"mark":"line","encoding":{"x":{"field":"x","type":"quantitative","scale":{"domain":[-15.5,314],"nice":false,"zero":false},"axis":null},"y":{"field":"y","type":"quantitative","scale":{"domain":[-105.2,5.5],"nice":false,"zero":false},"axis":{"values":[-100,-75,-50,-25,0],"title":null}},"color":{"field":"m","type":"nominal","scale":{"domain":["gfdl-esm4","ipsl-cm6a-lr","mpi-esm1-2-hr","ukesm1-0-ll","mri-esm2-0"],"range":["#161b72","#a51d1d","#dc8fdf","#fb9b4d","#2db46b"]},"legend":null}}},
 {"data":{"values":[{"t":"2061 – 2080"}]},"mark":{"type":"text","align":"right","baseline":"alphabetic","dx":-39,"dy":40,"fontSize":36},"encoding":{"x":{"datum":314},"y":{"datum":5.5},"text":{"field":"t"}}},
 {"data":{"values":[{"t":"(g)"}]},"mark":{"type":"text","align":"left","baseline":"alphabetic","dx":9,"dy":-23,"fontSize":36,"fontWeight":"bold"},"encoding":{"x":{"datum":-15.5},"y":{"datum":-105.2},"text":{"field":"t"}}}
]},
{"width":442,"height":341,"layer":[
 {"data":{"values":[{}]},"mark":{"type":"rule","color":"#c8c8c8","strokeDash":[6,3.5],"strokeWidth":1.5},"encoding":{"y":{"datum":0}}},
 {"data":{"name":"k"},"mark":"line","encoding":{"x":{"field":"x","type":"quantitative","scale":{"domain":[-15.5,314],"nice":false,"zero":false},"axis":null},"y":{"field":"y","type":"quantitative","scale":{"domain":[-105.2,5.5],"nice":false,"zero":false},"axis":{"values":[-100,-75,-50,-25,0],"title":null}},"color":{"field":"m","type":"nominal","scale":{"domain":["gfdl-esm4","ipsl-cm6a-lr","mpi-esm1-2-hr","ukesm1-0-ll","mri-esm2-0"],"range":["#161b72","#a51d1d","#dc8fdf","#fb9b4d","#2db46b"]},"legend":null}}},
 {"data":{"values":[{"t":"2061 – 2080"}]},"mark":{"type":"text","align":"right","baseline":"alphabetic","dx":-32,"dy":40,"fontSize":36},"encoding":{"x":{"datum":314},"y":{"datum":5.5},"text":{"field":"t"}}},
 {"data":{"values":[{"t":"(k)"}]},"mark":{"type":"text","align":"left","baseline":"alphabetic","dx":9,"dy":-23,"fontSize":36,"fontWeight":"bold"},"encoding":{"x":{"datum":-15.5},"y":{"datum":-105.2},"text":{"field":"t"}}}
]},
{"width":4,"height":341,"view":{"stroke":null},"data":{"values":[{}]},"mark":{"type":"point","opacity":0},"encoding":{}},
{"width":461,"height":340,"layer":[
 {"data":{"values":[{}]},"mark":{"type":"rule","color":"#c8c8c8","strokeDash":[6,3.5],"strokeWidth":1.5},"encoding":{"y":{"datum":0}}},
 {"data":{"name":"d"},"mark":"line","encoding":{"x":{"field":"x","type":"quantitative","scale":{"domain":[-15.5,314],"nice":false,"zero":false},"axis":{"values":[0,100,200,300],"title":null}},"y":{"field":"y","type":"quantitative","scale":{"domain":[-67,3.1],"nice":false,"zero":false},"axis":{"values":[-60,-40,-20,0],"title":null}},"color":{"field":"m","type":"nominal","scale":{"domain":["gfdl-esm4","ipsl-cm6a-lr","mpi-esm1-2-hr","ukesm1-0-ll","mri-esm2-0"],"range":["#161b72","#a51d1d","#dc8fdf","#fb9b4d","#2db46b"]},"legend":null}}},
 {"data":{"values":[{"t":"1995 – 2014"}]},"mark":{"type":"text","align":"right","baseline":"alphabetic","dx":-33,"dy":38,"fontSize":36},"encoding":{"x":{"datum":314},"y":{"datum":3.1},"text":{"field":"t"}}},
 {"data":{"values":[{"t":"(d)"}]},"mark":{"type":"text","align":"left","baseline":"alphabetic","dx":9,"dy":-23,"fontSize":36,"fontWeight":"bold"},"encoding":{"x":{"datum":-15.5},"y":{"datum":-67},"text":{"field":"t"}}}
]},
{"width":442,"height":340,"layer":[
 {"data":{"values":[{}]},"mark":{"type":"rule","color":"#c8c8c8","strokeDash":[6,3.5],"strokeWidth":1.5},"encoding":{"y":{"datum":0}}},
 {"data":{"name":"h"},"mark":"line","encoding":{"x":{"field":"x","type":"quantitative","scale":{"domain":[-15.5,314],"nice":false,"zero":false},"axis":{"values":[0,100,200,300],"title":"Simulation Year","titleX":195,"titleY":108,"titleAlign":"center","titleBaseline":"alphabetic"}},"y":{"field":"y","type":"quantitative","scale":{"domain":[-105.2,5.5],"nice":false,"zero":false},"axis":{"values":[-100,-75,-50,-25,0],"title":null}},"color":{"field":"m","type":"nominal","scale":{"domain":["gfdl-esm4","ipsl-cm6a-lr","mpi-esm1-2-hr","ukesm1-0-ll","mri-esm2-0"],"range":["#161b72","#a51d1d","#dc8fdf","#fb9b4d","#2db46b"]},"legend":null}}},
 {"data":{"values":[{"t":"2081 – 2100"}]},"mark":{"type":"text","align":"right","baseline":"alphabetic","dx":-37,"dy":38,"fontSize":36},"encoding":{"x":{"datum":314},"y":{"datum":5.5},"text":{"field":"t"}}},
 {"data":{"values":[{"t":"(h)"}]},"mark":{"type":"text","align":"left","baseline":"alphabetic","dx":9,"dy":-23,"fontSize":36,"fontWeight":"bold"},"encoding":{"x":{"datum":-15.5},"y":{"datum":-105.2},"text":{"field":"t"}}}
]},
{"width":442,"height":340,"layer":[
 {"data":{"values":[{}]},"mark":{"type":"rule","color":"#c8c8c8","strokeDash":[6,3.5],"strokeWidth":1.5},"encoding":{"y":{"datum":0}}},
 {"data":{"name":"l"},"mark":"line","encoding":{"x":{"field":"x","type":"quantitative","scale":{"domain":[-15.5,314],"nice":false,"zero":false},"axis":{"values":[0,100,200,300],"title":null}},"y":{"field":"y","type":"quantitative","scale":{"domain":[-105.2,5.5],"nice":false,"zero":false},"axis":{"values":[-100,-75,-50,-25,0],"title":null}},"color":{"field":"m","type":"nominal","scale":{"domain":["gfdl-esm4","ipsl-cm6a-lr","mpi-esm1-2-hr","ukesm1-0-ll","mri-esm2-0"],"range":["#161b72","#a51d1d","#dc8fdf","#fb9b4d","#2db46b"]},"legend":null}}},
 {"data":{"values":[{"t":"2081 – 2100"}]},"mark":{"type":"text","align":"right","baseline":"alphabetic","dx":-31,"dy":38,"fontSize":36},"encoding":{"x":{"datum":314},"y":{"datum":5.5},"text":{"field":"t"}}},
 {"data":{"values":[{"t":"(l)"}]},"mark":{"type":"text","align":"left","baseline":"alphabetic","dx":9,"dy":-23,"fontSize":36,"fontWeight":"bold"},"encoding":{"x":{"datum":-15.5},"y":{"datum":-105.2},"text":{"field":"t"}}}
]}
]
}
